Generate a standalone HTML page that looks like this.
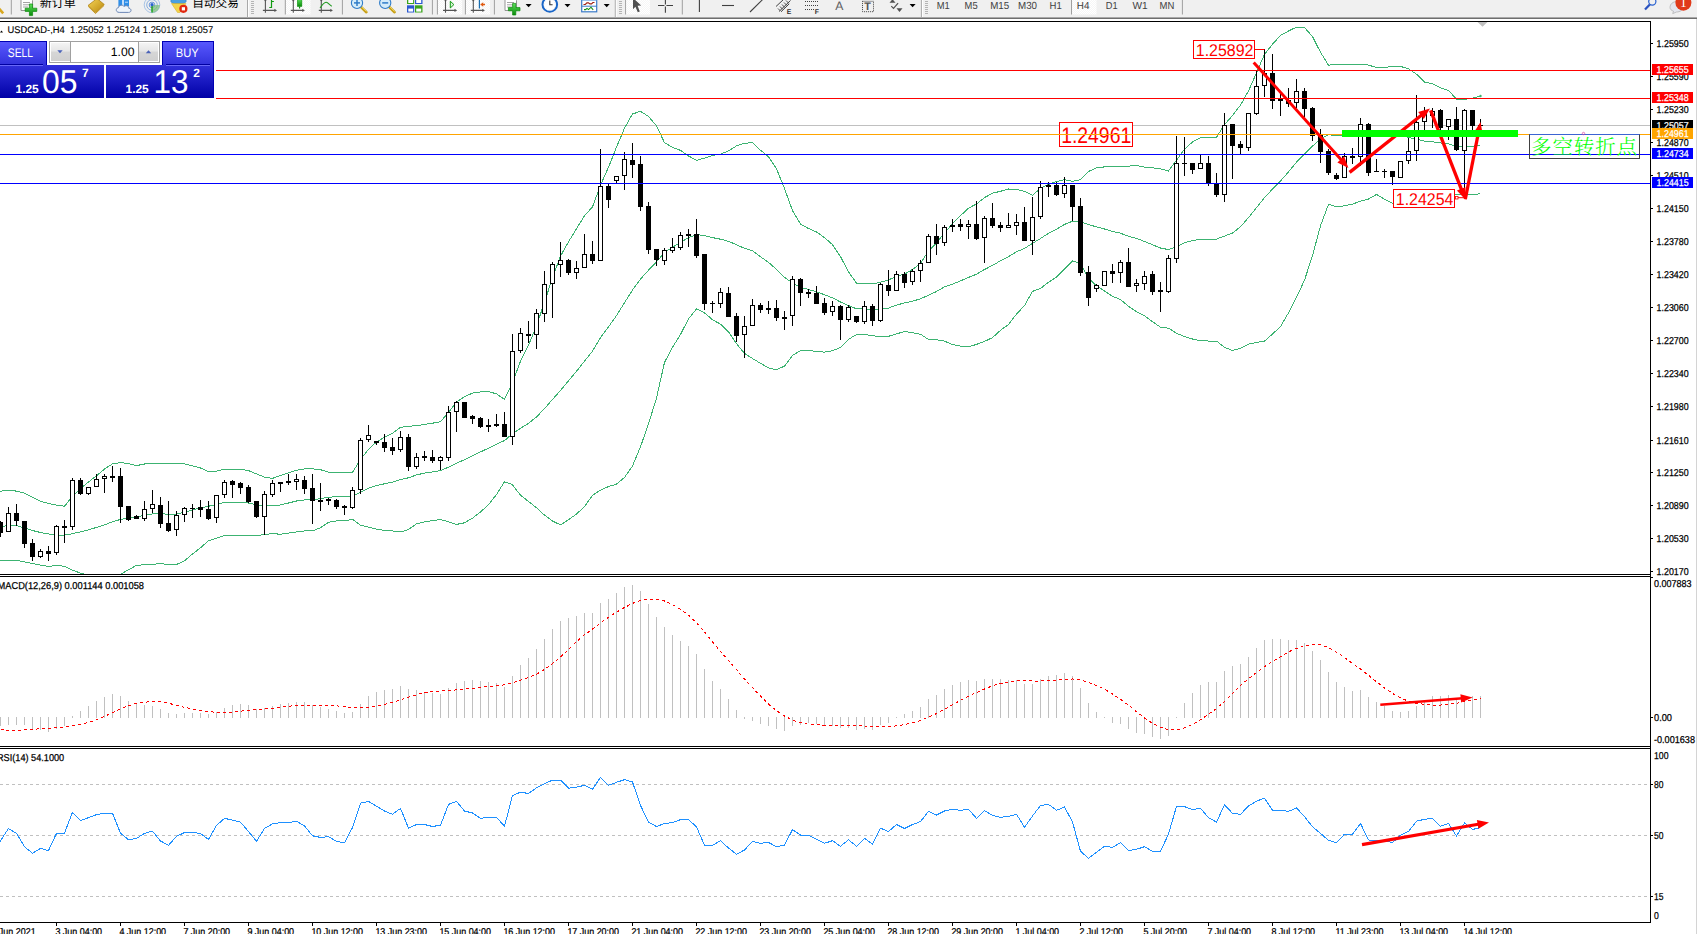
<!DOCTYPE html>
<html lang="zh"><head><meta charset="utf-8"><title>USDCAD-,H4</title>
<style>html,body{margin:0;padding:0;background:#fff;overflow:hidden}body{width:1697px;height:934px;position:relative;font-family:"Liberation Sans","Noto Sans CJK SC",sans-serif}text{text-rendering:geometricPrecision}</style>
</head><body>
<svg width="1697" height="934" viewBox="0 0 1697 934" style="position:absolute;left:0;top:0;display:block"><rect x="0" y="0" width="1697" height="934" fill="#fff"/>
<rect x="0" y="0" width="1697" height="17" fill="#f0f0f0"/>
<rect x="0" y="17" width="1697" height="1" fill="#a8a8a8"/>
<rect x="0" y="18" width="1697" height="1" fill="#6e6e6e"/>
<rect x="1696" y="19" width="1" height="915" fill="#d4d4d4"/>
<defs><clipPath id="cm"><rect x="0" y="22" width="1650" height="552"/></clipPath><clipPath id="c2"><rect x="0" y="577" width="1650" height="169"/></clipPath><clipPath id="c3"><rect x="0" y="749" width="1650" height="173"/></clipPath><linearGradient id="gb" x1="0" y1="0" x2="0" y2="1"><stop offset="0" stop-color="#5a5aff"/><stop offset="0.42" stop-color="#3232dc"/><stop offset="1" stop-color="#0000a6"/></linearGradient><linearGradient id="gs" x1="0" y1="0" x2="0" y2="1"><stop offset="0" stop-color="#f4f4f4"/><stop offset="0.45" stop-color="#e6e6e6"/><stop offset="0.5" stop-color="#d6d6d6"/><stop offset="1" stop-color="#d0d0d0"/></linearGradient></defs>
<g clip-path="url(#cm)">
<rect x="0" y="125" width="1650" height="1" fill="#c0c0c0" shape-rendering="crispEdges"/>
<polyline points="0.0,491.2 0.5,491.2 8.5,490.3 16.5,491.1 24.5,493.2 32.5,497.4 40.5,501.4 48.5,503.4 56.5,505.1 64.5,506.3 72.5,496.2 80.5,488.5 88.5,482.0 96.5,475.7 104.5,469.1 112.5,463.8 120.5,462.6 128.5,463.6 136.5,465.6 144.5,464.0 152.5,463.5 160.5,463.6 168.5,463.9 176.5,463.7 184.5,463.8 192.5,465.9 200.5,468.0 208.5,471.7 216.5,471.1 224.5,469.2 232.5,469.9 240.5,469.2 248.5,470.6 256.5,473.9 264.5,477.1 272.5,478.4 280.5,475.5 288.5,472.9 296.5,470.2 304.5,469.0 312.5,468.8 320.5,469.7 328.5,472.1 336.5,472.7 344.5,472.7 352.5,472.3 360.5,459.5 368.5,449.2 376.5,442.0 384.5,437.3 392.5,433.4 400.5,427.3 408.5,426.2 416.5,425.8 424.5,424.3 432.5,423.2 440.5,421.7 448.5,412.4 456.5,402.1 464.5,396.7 472.5,393.1 480.5,391.9 488.5,391.7 496.5,393.8 504.5,399.4 512.5,382.6 520.5,361.3 528.5,345.2 536.5,325.9 544.5,302.2 552.5,277.7 560.5,256.1 568.5,241.8 576.5,228.7 584.5,215.7 592.5,206.9 600.5,185.1 608.5,167.3 616.5,147.2 624.5,128.1 632.5,114.0 640.5,111.3 648.5,116.5 656.5,125.8 664.5,142.7 672.5,147.3 680.5,150.4 688.5,156.0 696.5,160.3 704.5,158.2 712.5,155.4 720.5,154.1 728.5,150.9 736.5,145.9 744.5,143.3 752.5,142.7 760.5,150.2 768.5,156.7 776.5,168.9 784.5,188.5 792.5,210.7 800.5,224.0 808.5,228.5 816.5,232.0 824.5,237.6 832.5,244.7 840.5,256.6 848.5,271.8 856.5,283.2 864.5,283.4 872.5,283.9 880.5,282.2 888.5,280.0 896.5,276.2 904.5,274.2 912.5,269.5 920.5,263.5 928.5,250.8 936.5,243.1 944.5,232.8 952.5,223.8 960.5,215.7 968.5,208.1 976.5,204.0 984.5,197.6 992.5,193.2 1000.5,191.3 1008.5,189.0 1016.5,189.5 1024.5,191.4 1032.5,195.2 1040.5,188.4 1048.5,184.4 1056.5,181.5 1064.5,179.6 1072.5,181.3 1080.5,179.7 1088.5,171.5 1096.5,167.8 1104.5,166.9 1112.5,166.4 1120.5,166.8 1128.5,166.2 1136.5,165.4 1144.5,167.2 1152.5,167.8 1160.5,168.8 1168.5,171.0 1176.5,160.2 1184.5,149.1 1192.5,142.0 1200.5,137.7 1208.5,137.2 1216.5,137.2 1224.5,124.7 1232.5,115.5 1240.5,105.1 1248.5,90.9 1256.5,72.9 1264.5,54.3 1272.5,44.2 1280.5,35.4 1288.5,31.0 1296.5,27.1 1304.5,27.5 1312.5,36.6 1320.5,52.3 1328.5,65.2 1336.5,64.4 1344.5,64.5 1352.5,64.9 1360.5,64.1 1368.5,65.1 1376.5,67.5 1384.5,67.5 1392.5,66.5 1400.5,66.4 1408.5,68.8 1416.5,74.2 1424.5,82.0 1432.5,83.8 1440.5,87.8 1448.5,90.5 1456.5,99.1 1464.5,99.4 1472.5,98.2 1480.5,96.0" fill="none" stroke="#3cb371" stroke-width="1" shape-rendering="crispEdges"/>
<polyline points="0.0,526.6 0.5,526.6 8.5,525.6 16.5,525.6 24.5,527.9 32.5,530.5 40.5,532.5 48.5,534.0 56.5,535.0 64.5,535.0 72.5,533.7 80.5,531.8 88.5,529.8 96.5,527.4 104.5,524.8 112.5,521.8 120.5,519.4 128.5,518.1 136.5,517.2 144.5,515.2 152.5,513.9 160.5,513.5 168.5,514.4 176.5,514.1 184.5,512.3 192.5,509.9 200.5,507.9 208.5,506.2 216.5,504.6 224.5,502.4 232.5,502.6 240.5,502.3 248.5,503.0 256.5,504.9 264.5,505.8 272.5,506.0 280.5,504.9 288.5,503.0 296.5,501.0 304.5,500.0 312.5,499.8 320.5,498.7 328.5,497.2 336.5,496.8 344.5,496.8 352.5,495.8 360.5,492.4 368.5,488.2 376.5,485.5 384.5,483.8 392.5,482.1 400.5,479.6 408.5,477.8 416.5,474.9 424.5,473.1 432.5,471.9 440.5,470.6 448.5,467.1 456.5,463.3 464.5,459.7 472.5,455.6 480.5,451.9 488.5,448.2 496.5,444.1 504.5,440.6 512.5,433.7 520.5,428.3 528.5,423.3 536.5,416.9 544.5,408.7 552.5,399.4 560.5,390.5 568.5,380.8 576.5,371.3 584.5,361.1 592.5,351.1 600.5,337.6 608.5,326.9 616.5,315.6 624.5,302.7 632.5,290.0 640.5,279.0 648.5,270.2 656.5,261.9 664.5,252.5 672.5,247.3 680.5,242.4 688.5,237.5 696.5,234.6 704.5,235.6 712.5,237.6 720.5,239.2 728.5,241.3 736.5,244.8 744.5,248.4 752.5,250.6 760.5,256.8 768.5,262.3 776.5,269.4 784.5,277.3 792.5,283.0 800.5,287.3 808.5,289.5 816.5,291.7 824.5,294.8 832.5,297.8 840.5,302.0 848.5,305.6 856.5,308.8 864.5,309.0 872.5,309.8 880.5,309.4 888.5,308.1 896.5,305.1 904.5,302.9 912.5,301.2 920.5,298.8 928.5,295.2 936.5,291.5 944.5,286.9 952.5,284.2 960.5,280.9 968.5,277.4 976.5,274.2 984.5,269.5 992.5,265.4 1000.5,260.8 1008.5,256.7 1016.5,251.8 1024.5,248.5 1032.5,243.3 1040.5,238.5 1048.5,233.3 1056.5,229.3 1064.5,224.4 1072.5,221.2 1080.5,221.6 1088.5,224.7 1096.5,226.8 1104.5,229.0 1112.5,231.4 1120.5,233.2 1128.5,236.3 1136.5,238.5 1144.5,241.4 1152.5,244.8 1160.5,248.0 1168.5,249.6 1176.5,246.7 1184.5,242.8 1192.5,240.5 1200.5,239.3 1208.5,239.1 1216.5,239.1 1224.5,236.1 1232.5,233.0 1240.5,226.8 1248.5,217.6 1256.5,207.6 1264.5,197.7 1272.5,189.1 1280.5,181.0 1288.5,171.9 1296.5,162.2 1304.5,153.9 1312.5,146.1 1320.5,139.0 1328.5,134.8 1336.5,135.5 1344.5,135.2 1352.5,134.6 1360.5,132.6 1368.5,132.0 1376.5,130.9 1384.5,133.3 1392.5,134.9 1400.5,135.5 1408.5,137.4 1416.5,139.2 1424.5,141.1 1432.5,141.7 1440.5,143.0 1448.5,143.8 1456.5,146.7 1464.5,146.8 1472.5,146.3 1480.5,144.9" fill="none" stroke="#3cb371" stroke-width="1" shape-rendering="crispEdges"/>
<polyline points="0.0,560.2 0.5,560.2 8.5,560.2 16.5,560.2 24.5,561.9 32.5,563.6 40.5,565.1 48.5,566.4 56.5,565.6 64.5,566.2 72.5,570.2 80.5,573.1 88.5,575.5 96.5,576.0 104.5,576.0 112.5,576.0 120.5,574.4 128.5,569.7 136.5,565.4 144.5,564.7 152.5,564.4 160.5,563.4 168.5,564.8 176.5,564.5 184.5,560.9 192.5,554.0 200.5,547.8 208.5,540.7 216.5,538.1 224.5,535.5 232.5,535.2 240.5,535.3 248.5,535.4 256.5,535.9 264.5,534.4 272.5,533.7 280.5,534.2 288.5,533.1 296.5,531.9 304.5,531.0 312.5,530.8 320.5,527.8 328.5,522.3 336.5,520.9 344.5,520.8 352.5,519.3 360.5,525.2 368.5,527.2 376.5,529.1 384.5,530.4 392.5,530.9 400.5,532.0 408.5,529.5 416.5,523.9 424.5,521.8 432.5,520.7 440.5,519.5 448.5,521.8 456.5,524.4 464.5,522.8 472.5,518.2 480.5,511.9 488.5,504.7 496.5,494.5 504.5,481.8 512.5,484.7 520.5,495.3 528.5,501.4 536.5,507.8 544.5,515.1 552.5,521.0 560.5,524.9 568.5,519.8 576.5,514.0 584.5,506.6 592.5,495.3 600.5,490.1 608.5,486.6 616.5,484.1 624.5,477.4 632.5,466.0 640.5,446.8 648.5,423.9 656.5,398.0 664.5,362.4 672.5,347.4 680.5,334.4 688.5,318.9 696.5,308.9 704.5,312.9 712.5,319.7 720.5,324.2 728.5,331.8 736.5,343.6 744.5,353.4 752.5,358.5 760.5,363.3 768.5,367.9 776.5,369.8 784.5,366.1 792.5,355.4 800.5,350.7 808.5,350.5 816.5,351.4 824.5,352.1 832.5,350.8 840.5,347.4 848.5,339.3 856.5,334.5 864.5,334.5 872.5,335.7 880.5,336.6 888.5,336.3 896.5,333.9 904.5,331.5 912.5,332.8 920.5,334.2 928.5,339.5 936.5,339.8 944.5,341.1 952.5,344.6 960.5,346.1 968.5,346.8 976.5,344.4 984.5,341.4 992.5,337.6 1000.5,330.3 1008.5,324.5 1016.5,314.1 1024.5,305.6 1032.5,291.4 1040.5,288.5 1048.5,282.2 1056.5,277.1 1064.5,269.2 1072.5,261.0 1080.5,263.6 1088.5,278.0 1096.5,285.8 1104.5,291.0 1112.5,296.4 1120.5,299.5 1128.5,306.4 1136.5,311.6 1144.5,315.7 1152.5,321.7 1160.5,327.2 1168.5,328.2 1176.5,333.2 1184.5,336.6 1192.5,339.0 1200.5,340.8 1208.5,341.0 1216.5,341.0 1224.5,347.4 1232.5,350.5 1240.5,348.4 1248.5,344.2 1256.5,342.4 1264.5,341.1 1272.5,334.0 1280.5,326.6 1288.5,312.8 1296.5,297.4 1304.5,280.2 1312.5,255.5 1320.5,225.8 1328.5,204.4 1336.5,206.7 1344.5,205.8 1352.5,204.2 1360.5,201.1 1368.5,199.0 1376.5,194.4 1384.5,199.2 1392.5,203.2 1400.5,204.6 1408.5,206.1 1416.5,204.2 1424.5,200.2 1432.5,199.5 1440.5,198.2 1448.5,197.1 1456.5,194.4 1464.5,194.2 1472.5,194.4 1480.5,193.8" fill="none" stroke="#3cb371" stroke-width="1" shape-rendering="crispEdges"/>
<circle cx="1480.5" cy="96.0" r="1.2" fill="#3cb371"/>
<rect x="0" y="521" width="1" height="16" fill="#000" shape-rendering="crispEdges"/>
<rect x="-2" y="522" width="5" height="11" fill="#000" shape-rendering="crispEdges"/>
<rect x="8" y="507" width="1" height="25" fill="#000" shape-rendering="crispEdges"/>
<rect x="6.5" y="513.5" width="4" height="18" fill="#fff" stroke="#000" stroke-width="1" shape-rendering="crispEdges"/>
<rect x="16" y="504" width="1" height="22" fill="#000" shape-rendering="crispEdges"/>
<rect x="14" y="513" width="5" height="8" fill="#000" shape-rendering="crispEdges"/>
<rect x="24" y="521" width="1" height="27" fill="#000" shape-rendering="crispEdges"/>
<rect x="22" y="521" width="5" height="23" fill="#000" shape-rendering="crispEdges"/>
<rect x="32" y="539" width="1" height="22" fill="#000" shape-rendering="crispEdges"/>
<rect x="30" y="543" width="5" height="14" fill="#000" shape-rendering="crispEdges"/>
<rect x="40" y="549" width="1" height="9" fill="#000" shape-rendering="crispEdges"/>
<rect x="38.5" y="551.5" width="4" height="5" fill="#fff" stroke="#000" stroke-width="1" shape-rendering="crispEdges"/>
<rect x="48" y="546" width="1" height="15" fill="#000" shape-rendering="crispEdges"/>
<rect x="46" y="551" width="5" height="3" fill="#000" shape-rendering="crispEdges"/>
<rect x="56" y="525" width="1" height="30" fill="#000" shape-rendering="crispEdges"/>
<rect x="54.5" y="526.5" width="4" height="26" fill="#fff" stroke="#000" stroke-width="1" shape-rendering="crispEdges"/>
<rect x="64" y="520" width="1" height="23" fill="#000" shape-rendering="crispEdges"/>
<rect x="62" y="526" width="5" height="2" fill="#000" shape-rendering="crispEdges"/>
<rect x="72" y="478" width="1" height="52" fill="#000" shape-rendering="crispEdges"/>
<rect x="70.5" y="480.5" width="4" height="46" fill="#fff" stroke="#000" stroke-width="1" shape-rendering="crispEdges"/>
<rect x="80" y="478" width="1" height="17" fill="#000" shape-rendering="crispEdges"/>
<rect x="78" y="480" width="5" height="14" fill="#000" shape-rendering="crispEdges"/>
<rect x="88" y="487" width="1" height="8" fill="#000" shape-rendering="crispEdges"/>
<rect x="86.5" y="487.5" width="4" height="6" fill="#fff" stroke="#000" stroke-width="1" shape-rendering="crispEdges"/>
<rect x="96" y="474" width="1" height="13" fill="#000" shape-rendering="crispEdges"/>
<rect x="94.5" y="479.5" width="4" height="7" fill="#fff" stroke="#000" stroke-width="1" shape-rendering="crispEdges"/>
<rect x="104" y="474" width="1" height="19" fill="#000" shape-rendering="crispEdges"/>
<rect x="102.5" y="476.5" width="4" height="2" fill="#fff" stroke="#000" stroke-width="1" shape-rendering="crispEdges"/>
<rect x="112" y="466" width="1" height="16" fill="#000" shape-rendering="crispEdges"/>
<rect x="110" y="476" width="5" height="2" fill="#000" shape-rendering="crispEdges"/>
<rect x="120" y="468" width="1" height="55" fill="#000" shape-rendering="crispEdges"/>
<rect x="118" y="476" width="5" height="31" fill="#000" shape-rendering="crispEdges"/>
<rect x="128" y="506" width="1" height="15" fill="#000" shape-rendering="crispEdges"/>
<rect x="126" y="506" width="5" height="14" fill="#000" shape-rendering="crispEdges"/>
<rect x="136" y="515" width="1" height="4" fill="#000" shape-rendering="crispEdges"/>
<rect x="134" y="516" width="5" height="3" fill="#000" shape-rendering="crispEdges"/>
<rect x="144" y="501" width="1" height="20" fill="#000" shape-rendering="crispEdges"/>
<rect x="142.5" y="509.5" width="4" height="9" fill="#fff" stroke="#000" stroke-width="1" shape-rendering="crispEdges"/>
<rect x="152" y="490" width="1" height="23" fill="#000" shape-rendering="crispEdges"/>
<rect x="150.5" y="504.5" width="4" height="4" fill="#fff" stroke="#000" stroke-width="1" shape-rendering="crispEdges"/>
<rect x="160" y="497" width="1" height="31" fill="#000" shape-rendering="crispEdges"/>
<rect x="158" y="505" width="5" height="19" fill="#000" shape-rendering="crispEdges"/>
<rect x="168" y="501" width="1" height="31" fill="#000" shape-rendering="crispEdges"/>
<rect x="166" y="523" width="5" height="8" fill="#000" shape-rendering="crispEdges"/>
<rect x="176" y="511" width="1" height="25" fill="#000" shape-rendering="crispEdges"/>
<rect x="174.5" y="515.5" width="4" height="14" fill="#fff" stroke="#000" stroke-width="1" shape-rendering="crispEdges"/>
<rect x="184" y="507" width="1" height="15" fill="#000" shape-rendering="crispEdges"/>
<rect x="182.5" y="508.5" width="4" height="6" fill="#fff" stroke="#000" stroke-width="1" shape-rendering="crispEdges"/>
<rect x="192" y="504" width="1" height="14" fill="#000" shape-rendering="crispEdges"/>
<rect x="190" y="508" width="5" height="1" fill="#000" shape-rendering="crispEdges"/>
<rect x="200" y="500" width="1" height="17" fill="#000" shape-rendering="crispEdges"/>
<rect x="198" y="507" width="5" height="3" fill="#000" shape-rendering="crispEdges"/>
<rect x="208" y="501" width="1" height="19" fill="#000" shape-rendering="crispEdges"/>
<rect x="206" y="509" width="5" height="10" fill="#000" shape-rendering="crispEdges"/>
<rect x="216" y="495" width="1" height="28" fill="#000" shape-rendering="crispEdges"/>
<rect x="214.5" y="495.5" width="4" height="22" fill="#fff" stroke="#000" stroke-width="1" shape-rendering="crispEdges"/>
<rect x="224" y="480" width="1" height="18" fill="#000" shape-rendering="crispEdges"/>
<rect x="222.5" y="482.5" width="4" height="12" fill="#fff" stroke="#000" stroke-width="1" shape-rendering="crispEdges"/>
<rect x="232" y="480" width="1" height="18" fill="#000" shape-rendering="crispEdges"/>
<rect x="230" y="481" width="5" height="4" fill="#000" shape-rendering="crispEdges"/>
<rect x="240" y="482" width="1" height="12" fill="#000" shape-rendering="crispEdges"/>
<rect x="238" y="483" width="5" height="5" fill="#000" shape-rendering="crispEdges"/>
<rect x="248" y="485" width="1" height="18" fill="#000" shape-rendering="crispEdges"/>
<rect x="246" y="487" width="5" height="15" fill="#000" shape-rendering="crispEdges"/>
<rect x="256" y="501" width="1" height="17" fill="#000" shape-rendering="crispEdges"/>
<rect x="254" y="501" width="5" height="16" fill="#000" shape-rendering="crispEdges"/>
<rect x="264" y="491" width="1" height="44" fill="#000" shape-rendering="crispEdges"/>
<rect x="262.5" y="494.5" width="4" height="22" fill="#fff" stroke="#000" stroke-width="1" shape-rendering="crispEdges"/>
<rect x="272" y="480" width="1" height="17" fill="#000" shape-rendering="crispEdges"/>
<rect x="270.5" y="483.5" width="4" height="11" fill="#fff" stroke="#000" stroke-width="1" shape-rendering="crispEdges"/>
<rect x="280" y="482" width="1" height="10" fill="#000" shape-rendering="crispEdges"/>
<rect x="278" y="482" width="5" height="2" fill="#000" shape-rendering="crispEdges"/>
<rect x="288" y="474" width="1" height="11" fill="#000" shape-rendering="crispEdges"/>
<rect x="286" y="481" width="5" height="2" fill="#000" shape-rendering="crispEdges"/>
<rect x="296" y="474" width="1" height="16" fill="#000" shape-rendering="crispEdges"/>
<rect x="294.5" y="479.5" width="4" height="2" fill="#fff" stroke="#000" stroke-width="1" shape-rendering="crispEdges"/>
<rect x="304" y="476" width="1" height="18" fill="#000" shape-rendering="crispEdges"/>
<rect x="302" y="480" width="5" height="9" fill="#000" shape-rendering="crispEdges"/>
<rect x="312" y="474" width="1" height="50" fill="#000" shape-rendering="crispEdges"/>
<rect x="310" y="488" width="5" height="13" fill="#000" shape-rendering="crispEdges"/>
<rect x="320" y="483" width="1" height="28" fill="#000" shape-rendering="crispEdges"/>
<rect x="318" y="500" width="5" height="2" fill="#000" shape-rendering="crispEdges"/>
<rect x="328" y="498" width="1" height="7" fill="#000" shape-rendering="crispEdges"/>
<rect x="326" y="499" width="5" height="2" fill="#000" shape-rendering="crispEdges"/>
<rect x="336" y="499" width="1" height="10" fill="#000" shape-rendering="crispEdges"/>
<rect x="334" y="500" width="5" height="7" fill="#000" shape-rendering="crispEdges"/>
<rect x="344" y="505" width="1" height="10" fill="#000" shape-rendering="crispEdges"/>
<rect x="342" y="506" width="5" height="2" fill="#000" shape-rendering="crispEdges"/>
<rect x="352" y="487" width="1" height="22" fill="#000" shape-rendering="crispEdges"/>
<rect x="350.5" y="490.5" width="4" height="17" fill="#fff" stroke="#000" stroke-width="1" shape-rendering="crispEdges"/>
<rect x="360" y="438" width="1" height="56" fill="#000" shape-rendering="crispEdges"/>
<rect x="358.5" y="440.5" width="4" height="49" fill="#fff" stroke="#000" stroke-width="1" shape-rendering="crispEdges"/>
<rect x="368" y="425" width="1" height="17" fill="#000" shape-rendering="crispEdges"/>
<rect x="366.5" y="435.5" width="4" height="4" fill="#fff" stroke="#000" stroke-width="1" shape-rendering="crispEdges"/>
<rect x="376" y="441" width="1" height="4" fill="#000" shape-rendering="crispEdges"/>
<rect x="374" y="441" width="5" height="2" fill="#000" shape-rendering="crispEdges"/>
<rect x="384" y="434" width="1" height="18" fill="#000" shape-rendering="crispEdges"/>
<rect x="382" y="442" width="5" height="6" fill="#000" shape-rendering="crispEdges"/>
<rect x="392" y="438" width="1" height="17" fill="#000" shape-rendering="crispEdges"/>
<rect x="390" y="447" width="5" height="4" fill="#000" shape-rendering="crispEdges"/>
<rect x="400" y="431" width="1" height="21" fill="#000" shape-rendering="crispEdges"/>
<rect x="398.5" y="437.5" width="4" height="12" fill="#fff" stroke="#000" stroke-width="1" shape-rendering="crispEdges"/>
<rect x="408" y="434" width="1" height="37" fill="#000" shape-rendering="crispEdges"/>
<rect x="406" y="437" width="5" height="30" fill="#000" shape-rendering="crispEdges"/>
<rect x="416" y="453" width="1" height="16" fill="#000" shape-rendering="crispEdges"/>
<rect x="414.5" y="457.5" width="4" height="9" fill="#fff" stroke="#000" stroke-width="1" shape-rendering="crispEdges"/>
<rect x="424" y="451" width="1" height="10" fill="#000" shape-rendering="crispEdges"/>
<rect x="422" y="456" width="5" height="2" fill="#000" shape-rendering="crispEdges"/>
<rect x="432" y="450" width="1" height="13" fill="#000" shape-rendering="crispEdges"/>
<rect x="430" y="457" width="5" height="4" fill="#000" shape-rendering="crispEdges"/>
<rect x="440" y="456" width="1" height="14" fill="#000" shape-rendering="crispEdges"/>
<rect x="438.5" y="457.5" width="4" height="3" fill="#fff" stroke="#000" stroke-width="1" shape-rendering="crispEdges"/>
<rect x="448" y="406" width="1" height="55" fill="#000" shape-rendering="crispEdges"/>
<rect x="446.5" y="412.5" width="4" height="45" fill="#fff" stroke="#000" stroke-width="1" shape-rendering="crispEdges"/>
<rect x="456" y="401" width="1" height="31" fill="#000" shape-rendering="crispEdges"/>
<rect x="454.5" y="402.5" width="4" height="9" fill="#fff" stroke="#000" stroke-width="1" shape-rendering="crispEdges"/>
<rect x="464" y="402" width="1" height="16" fill="#000" shape-rendering="crispEdges"/>
<rect x="462" y="402" width="5" height="16" fill="#000" shape-rendering="crispEdges"/>
<rect x="472" y="415" width="1" height="9" fill="#000" shape-rendering="crispEdges"/>
<rect x="470" y="416" width="5" height="3" fill="#000" shape-rendering="crispEdges"/>
<rect x="480" y="417" width="1" height="11" fill="#000" shape-rendering="crispEdges"/>
<rect x="478" y="418" width="5" height="9" fill="#000" shape-rendering="crispEdges"/>
<rect x="488" y="419" width="1" height="13" fill="#000" shape-rendering="crispEdges"/>
<rect x="486" y="425" width="5" height="2" fill="#000" shape-rendering="crispEdges"/>
<rect x="496" y="414" width="1" height="13" fill="#000" shape-rendering="crispEdges"/>
<rect x="494" y="424" width="5" height="2" fill="#000" shape-rendering="crispEdges"/>
<rect x="504" y="412" width="1" height="25" fill="#000" shape-rendering="crispEdges"/>
<rect x="502" y="424" width="5" height="13" fill="#000" shape-rendering="crispEdges"/>
<rect x="512" y="334" width="1" height="111" fill="#000" shape-rendering="crispEdges"/>
<rect x="510.5" y="351.5" width="4" height="85" fill="#fff" stroke="#000" stroke-width="1" shape-rendering="crispEdges"/>
<rect x="520" y="328" width="1" height="25" fill="#000" shape-rendering="crispEdges"/>
<rect x="518.5" y="333.5" width="4" height="17" fill="#fff" stroke="#000" stroke-width="1" shape-rendering="crispEdges"/>
<rect x="528" y="321" width="1" height="22" fill="#000" shape-rendering="crispEdges"/>
<rect x="526" y="334" width="5" height="2" fill="#000" shape-rendering="crispEdges"/>
<rect x="536" y="309" width="1" height="40" fill="#000" shape-rendering="crispEdges"/>
<rect x="534.5" y="313.5" width="4" height="21" fill="#fff" stroke="#000" stroke-width="1" shape-rendering="crispEdges"/>
<rect x="544" y="271" width="1" height="51" fill="#000" shape-rendering="crispEdges"/>
<rect x="542.5" y="284.5" width="4" height="29" fill="#fff" stroke="#000" stroke-width="1" shape-rendering="crispEdges"/>
<rect x="552" y="262" width="1" height="56" fill="#000" shape-rendering="crispEdges"/>
<rect x="550.5" y="264.5" width="4" height="19" fill="#fff" stroke="#000" stroke-width="1" shape-rendering="crispEdges"/>
<rect x="560" y="242" width="1" height="35" fill="#000" shape-rendering="crispEdges"/>
<rect x="558.5" y="260.5" width="4" height="4" fill="#fff" stroke="#000" stroke-width="1" shape-rendering="crispEdges"/>
<rect x="568" y="259" width="1" height="16" fill="#000" shape-rendering="crispEdges"/>
<rect x="566" y="260" width="5" height="13" fill="#000" shape-rendering="crispEdges"/>
<rect x="576" y="261" width="1" height="18" fill="#000" shape-rendering="crispEdges"/>
<rect x="574.5" y="268.5" width="4" height="4" fill="#fff" stroke="#000" stroke-width="1" shape-rendering="crispEdges"/>
<rect x="584" y="234" width="1" height="34" fill="#000" shape-rendering="crispEdges"/>
<rect x="582.5" y="254.5" width="4" height="13" fill="#fff" stroke="#000" stroke-width="1" shape-rendering="crispEdges"/>
<rect x="592" y="241" width="1" height="23" fill="#000" shape-rendering="crispEdges"/>
<rect x="590" y="254" width="5" height="7" fill="#000" shape-rendering="crispEdges"/>
<rect x="600" y="149" width="1" height="112" fill="#000" shape-rendering="crispEdges"/>
<rect x="598.5" y="186.5" width="4" height="74" fill="#fff" stroke="#000" stroke-width="1" shape-rendering="crispEdges"/>
<rect x="608" y="184" width="1" height="24" fill="#000" shape-rendering="crispEdges"/>
<rect x="606" y="186" width="5" height="14" fill="#000" shape-rendering="crispEdges"/>
<rect x="616" y="176" width="1" height="8" fill="#000" shape-rendering="crispEdges"/>
<rect x="614.5" y="176.5" width="4" height="4" fill="#fff" stroke="#000" stroke-width="1" shape-rendering="crispEdges"/>
<rect x="624" y="152" width="1" height="38" fill="#000" shape-rendering="crispEdges"/>
<rect x="622.5" y="159.5" width="4" height="16" fill="#fff" stroke="#000" stroke-width="1" shape-rendering="crispEdges"/>
<rect x="632" y="143" width="1" height="35" fill="#000" shape-rendering="crispEdges"/>
<rect x="630" y="160" width="5" height="5" fill="#000" shape-rendering="crispEdges"/>
<rect x="640" y="156" width="1" height="55" fill="#000" shape-rendering="crispEdges"/>
<rect x="638" y="164" width="5" height="43" fill="#000" shape-rendering="crispEdges"/>
<rect x="648" y="202" width="1" height="52" fill="#000" shape-rendering="crispEdges"/>
<rect x="646" y="206" width="5" height="44" fill="#000" shape-rendering="crispEdges"/>
<rect x="656" y="249" width="1" height="17" fill="#000" shape-rendering="crispEdges"/>
<rect x="654" y="249" width="5" height="11" fill="#000" shape-rendering="crispEdges"/>
<rect x="664" y="248" width="1" height="17" fill="#000" shape-rendering="crispEdges"/>
<rect x="662.5" y="250.5" width="4" height="10" fill="#fff" stroke="#000" stroke-width="1" shape-rendering="crispEdges"/>
<rect x="672" y="238" width="1" height="15" fill="#000" shape-rendering="crispEdges"/>
<rect x="670.5" y="247.5" width="4" height="3" fill="#fff" stroke="#000" stroke-width="1" shape-rendering="crispEdges"/>
<rect x="680" y="232" width="1" height="18" fill="#000" shape-rendering="crispEdges"/>
<rect x="678.5" y="235.5" width="4" height="12" fill="#fff" stroke="#000" stroke-width="1" shape-rendering="crispEdges"/>
<rect x="688" y="229" width="1" height="18" fill="#000" shape-rendering="crispEdges"/>
<rect x="686" y="234" width="5" height="2" fill="#000" shape-rendering="crispEdges"/>
<rect x="696" y="219" width="1" height="39" fill="#000" shape-rendering="crispEdges"/>
<rect x="694" y="234" width="5" height="22" fill="#000" shape-rendering="crispEdges"/>
<rect x="704" y="254" width="1" height="56" fill="#000" shape-rendering="crispEdges"/>
<rect x="702" y="254" width="5" height="50" fill="#000" shape-rendering="crispEdges"/>
<rect x="712" y="301" width="1" height="12" fill="#000" shape-rendering="crispEdges"/>
<rect x="710" y="303" width="5" height="1" fill="#000" shape-rendering="crispEdges"/>
<rect x="720" y="288" width="1" height="20" fill="#000" shape-rendering="crispEdges"/>
<rect x="718.5" y="292.5" width="4" height="11" fill="#fff" stroke="#000" stroke-width="1" shape-rendering="crispEdges"/>
<rect x="728" y="287" width="1" height="30" fill="#000" shape-rendering="crispEdges"/>
<rect x="726" y="293" width="5" height="24" fill="#000" shape-rendering="crispEdges"/>
<rect x="736" y="313" width="1" height="29" fill="#000" shape-rendering="crispEdges"/>
<rect x="734" y="316" width="5" height="20" fill="#000" shape-rendering="crispEdges"/>
<rect x="744" y="316" width="1" height="42" fill="#000" shape-rendering="crispEdges"/>
<rect x="742.5" y="326.5" width="4" height="8" fill="#fff" stroke="#000" stroke-width="1" shape-rendering="crispEdges"/>
<rect x="752" y="299" width="1" height="27" fill="#000" shape-rendering="crispEdges"/>
<rect x="750.5" y="305.5" width="4" height="20" fill="#fff" stroke="#000" stroke-width="1" shape-rendering="crispEdges"/>
<rect x="760" y="303" width="1" height="10" fill="#000" shape-rendering="crispEdges"/>
<rect x="758" y="305" width="5" height="5" fill="#000" shape-rendering="crispEdges"/>
<rect x="768" y="301" width="1" height="13" fill="#000" shape-rendering="crispEdges"/>
<rect x="766" y="308" width="5" height="2" fill="#000" shape-rendering="crispEdges"/>
<rect x="776" y="300" width="1" height="21" fill="#000" shape-rendering="crispEdges"/>
<rect x="774" y="308" width="5" height="10" fill="#000" shape-rendering="crispEdges"/>
<rect x="784" y="311" width="1" height="19" fill="#000" shape-rendering="crispEdges"/>
<rect x="782" y="317" width="5" height="2" fill="#000" shape-rendering="crispEdges"/>
<rect x="792" y="276" width="1" height="50" fill="#000" shape-rendering="crispEdges"/>
<rect x="790.5" y="279.5" width="4" height="36" fill="#fff" stroke="#000" stroke-width="1" shape-rendering="crispEdges"/>
<rect x="800" y="278" width="1" height="28" fill="#000" shape-rendering="crispEdges"/>
<rect x="798" y="279" width="5" height="14" fill="#000" shape-rendering="crispEdges"/>
<rect x="808" y="289" width="1" height="9" fill="#000" shape-rendering="crispEdges"/>
<rect x="806" y="292" width="5" height="2" fill="#000" shape-rendering="crispEdges"/>
<rect x="816" y="286" width="1" height="18" fill="#000" shape-rendering="crispEdges"/>
<rect x="814" y="293" width="5" height="11" fill="#000" shape-rendering="crispEdges"/>
<rect x="824" y="298" width="1" height="17" fill="#000" shape-rendering="crispEdges"/>
<rect x="822" y="303" width="5" height="10" fill="#000" shape-rendering="crispEdges"/>
<rect x="832" y="301" width="1" height="15" fill="#000" shape-rendering="crispEdges"/>
<rect x="830.5" y="306.5" width="4" height="5" fill="#fff" stroke="#000" stroke-width="1" shape-rendering="crispEdges"/>
<rect x="840" y="305" width="1" height="35" fill="#000" shape-rendering="crispEdges"/>
<rect x="838" y="306" width="5" height="14" fill="#000" shape-rendering="crispEdges"/>
<rect x="848" y="305" width="1" height="17" fill="#000" shape-rendering="crispEdges"/>
<rect x="846.5" y="307.5" width="4" height="12" fill="#fff" stroke="#000" stroke-width="1" shape-rendering="crispEdges"/>
<rect x="856" y="316" width="1" height="7" fill="#000" shape-rendering="crispEdges"/>
<rect x="854" y="316" width="5" height="6" fill="#000" shape-rendering="crispEdges"/>
<rect x="864" y="301" width="1" height="23" fill="#000" shape-rendering="crispEdges"/>
<rect x="862.5" y="306.5" width="4" height="15" fill="#fff" stroke="#000" stroke-width="1" shape-rendering="crispEdges"/>
<rect x="872" y="304" width="1" height="22" fill="#000" shape-rendering="crispEdges"/>
<rect x="870" y="306" width="5" height="15" fill="#000" shape-rendering="crispEdges"/>
<rect x="880" y="283" width="1" height="39" fill="#000" shape-rendering="crispEdges"/>
<rect x="878.5" y="284.5" width="4" height="36" fill="#fff" stroke="#000" stroke-width="1" shape-rendering="crispEdges"/>
<rect x="888" y="270" width="1" height="26" fill="#000" shape-rendering="crispEdges"/>
<rect x="886" y="285" width="5" height="6" fill="#000" shape-rendering="crispEdges"/>
<rect x="896" y="271" width="1" height="20" fill="#000" shape-rendering="crispEdges"/>
<rect x="894.5" y="274.5" width="4" height="16" fill="#fff" stroke="#000" stroke-width="1" shape-rendering="crispEdges"/>
<rect x="904" y="272" width="1" height="16" fill="#000" shape-rendering="crispEdges"/>
<rect x="902" y="274" width="5" height="9" fill="#000" shape-rendering="crispEdges"/>
<rect x="912" y="269" width="1" height="16" fill="#000" shape-rendering="crispEdges"/>
<rect x="910.5" y="271.5" width="4" height="10" fill="#fff" stroke="#000" stroke-width="1" shape-rendering="crispEdges"/>
<rect x="920" y="260" width="1" height="22" fill="#000" shape-rendering="crispEdges"/>
<rect x="918.5" y="263.5" width="4" height="7" fill="#fff" stroke="#000" stroke-width="1" shape-rendering="crispEdges"/>
<rect x="928" y="234" width="1" height="29" fill="#000" shape-rendering="crispEdges"/>
<rect x="926.5" y="236.5" width="4" height="26" fill="#fff" stroke="#000" stroke-width="1" shape-rendering="crispEdges"/>
<rect x="936" y="224" width="1" height="31" fill="#000" shape-rendering="crispEdges"/>
<rect x="934" y="236" width="5" height="8" fill="#000" shape-rendering="crispEdges"/>
<rect x="944" y="225" width="1" height="21" fill="#000" shape-rendering="crispEdges"/>
<rect x="942.5" y="227.5" width="4" height="15" fill="#fff" stroke="#000" stroke-width="1" shape-rendering="crispEdges"/>
<rect x="952" y="219" width="1" height="13" fill="#000" shape-rendering="crispEdges"/>
<rect x="950" y="225" width="5" height="2" fill="#000" shape-rendering="crispEdges"/>
<rect x="960" y="219" width="1" height="12" fill="#000" shape-rendering="crispEdges"/>
<rect x="958" y="224" width="5" height="3" fill="#000" shape-rendering="crispEdges"/>
<rect x="968" y="220" width="1" height="19" fill="#000" shape-rendering="crispEdges"/>
<rect x="966.5" y="224.5" width="4" height="2" fill="#fff" stroke="#000" stroke-width="1" shape-rendering="crispEdges"/>
<rect x="976" y="201" width="1" height="39" fill="#000" shape-rendering="crispEdges"/>
<rect x="974" y="224" width="5" height="15" fill="#000" shape-rendering="crispEdges"/>
<rect x="984" y="216" width="1" height="47" fill="#000" shape-rendering="crispEdges"/>
<rect x="982.5" y="218.5" width="4" height="19" fill="#fff" stroke="#000" stroke-width="1" shape-rendering="crispEdges"/>
<rect x="992" y="203" width="1" height="25" fill="#000" shape-rendering="crispEdges"/>
<rect x="990" y="218" width="5" height="8" fill="#000" shape-rendering="crispEdges"/>
<rect x="1000" y="222" width="1" height="10" fill="#000" shape-rendering="crispEdges"/>
<rect x="998" y="225" width="5" height="3" fill="#000" shape-rendering="crispEdges"/>
<rect x="1008" y="213" width="1" height="15" fill="#000" shape-rendering="crispEdges"/>
<rect x="1006.5" y="225.5" width="4" height="2" fill="#fff" stroke="#000" stroke-width="1" shape-rendering="crispEdges"/>
<rect x="1016" y="214" width="1" height="21" fill="#000" shape-rendering="crispEdges"/>
<rect x="1014.5" y="222.5" width="4" height="3" fill="#fff" stroke="#000" stroke-width="1" shape-rendering="crispEdges"/>
<rect x="1024" y="207" width="1" height="34" fill="#000" shape-rendering="crispEdges"/>
<rect x="1022" y="222" width="5" height="19" fill="#000" shape-rendering="crispEdges"/>
<rect x="1032" y="197" width="1" height="58" fill="#000" shape-rendering="crispEdges"/>
<rect x="1030.5" y="217.5" width="4" height="23" fill="#fff" stroke="#000" stroke-width="1" shape-rendering="crispEdges"/>
<rect x="1040" y="181" width="1" height="38" fill="#000" shape-rendering="crispEdges"/>
<rect x="1038.5" y="187.5" width="4" height="29" fill="#fff" stroke="#000" stroke-width="1" shape-rendering="crispEdges"/>
<rect x="1048" y="182" width="1" height="15" fill="#000" shape-rendering="crispEdges"/>
<rect x="1046" y="185" width="5" height="2" fill="#000" shape-rendering="crispEdges"/>
<rect x="1056" y="182" width="1" height="14" fill="#000" shape-rendering="crispEdges"/>
<rect x="1054" y="185" width="5" height="10" fill="#000" shape-rendering="crispEdges"/>
<rect x="1064" y="177" width="1" height="21" fill="#000" shape-rendering="crispEdges"/>
<rect x="1062.5" y="185.5" width="4" height="8" fill="#fff" stroke="#000" stroke-width="1" shape-rendering="crispEdges"/>
<rect x="1072" y="185" width="1" height="36" fill="#000" shape-rendering="crispEdges"/>
<rect x="1070" y="185" width="5" height="22" fill="#000" shape-rendering="crispEdges"/>
<rect x="1080" y="198" width="1" height="78" fill="#000" shape-rendering="crispEdges"/>
<rect x="1078" y="206" width="5" height="67" fill="#000" shape-rendering="crispEdges"/>
<rect x="1088" y="266" width="1" height="40" fill="#000" shape-rendering="crispEdges"/>
<rect x="1086" y="272" width="5" height="26" fill="#000" shape-rendering="crispEdges"/>
<rect x="1096" y="284" width="1" height="8" fill="#000" shape-rendering="crispEdges"/>
<rect x="1094.5" y="285.5" width="4" height="3" fill="#fff" stroke="#000" stroke-width="1" shape-rendering="crispEdges"/>
<rect x="1104" y="271" width="1" height="15" fill="#000" shape-rendering="crispEdges"/>
<rect x="1102.5" y="271.5" width="4" height="14" fill="#fff" stroke="#000" stroke-width="1" shape-rendering="crispEdges"/>
<rect x="1112" y="264" width="1" height="19" fill="#000" shape-rendering="crispEdges"/>
<rect x="1110" y="271" width="5" height="3" fill="#000" shape-rendering="crispEdges"/>
<rect x="1120" y="260" width="1" height="23" fill="#000" shape-rendering="crispEdges"/>
<rect x="1118.5" y="262.5" width="4" height="10" fill="#fff" stroke="#000" stroke-width="1" shape-rendering="crispEdges"/>
<rect x="1128" y="248" width="1" height="39" fill="#000" shape-rendering="crispEdges"/>
<rect x="1126" y="262" width="5" height="25" fill="#000" shape-rendering="crispEdges"/>
<rect x="1136" y="279" width="1" height="13" fill="#000" shape-rendering="crispEdges"/>
<rect x="1134.5" y="283.5" width="4" height="2" fill="#fff" stroke="#000" stroke-width="1" shape-rendering="crispEdges"/>
<rect x="1144" y="271" width="1" height="19" fill="#000" shape-rendering="crispEdges"/>
<rect x="1142.5" y="276.5" width="4" height="7" fill="#fff" stroke="#000" stroke-width="1" shape-rendering="crispEdges"/>
<rect x="1152" y="271" width="1" height="24" fill="#000" shape-rendering="crispEdges"/>
<rect x="1150" y="274" width="5" height="18" fill="#000" shape-rendering="crispEdges"/>
<rect x="1160" y="282" width="1" height="30" fill="#000" shape-rendering="crispEdges"/>
<rect x="1158" y="290" width="5" height="2" fill="#000" shape-rendering="crispEdges"/>
<rect x="1168" y="255" width="1" height="38" fill="#000" shape-rendering="crispEdges"/>
<rect x="1166.5" y="258.5" width="4" height="33" fill="#fff" stroke="#000" stroke-width="1" shape-rendering="crispEdges"/>
<rect x="1176" y="136" width="1" height="127" fill="#000" shape-rendering="crispEdges"/>
<rect x="1174.5" y="163.5" width="4" height="95" fill="#fff" stroke="#000" stroke-width="1" shape-rendering="crispEdges"/>
<rect x="1184" y="137" width="1" height="39" fill="#000" shape-rendering="crispEdges"/>
<rect x="1182" y="163" width="5" height="1" fill="#000" shape-rendering="crispEdges"/>
<rect x="1192" y="163" width="1" height="11" fill="#000" shape-rendering="crispEdges"/>
<rect x="1190" y="163" width="5" height="7" fill="#000" shape-rendering="crispEdges"/>
<rect x="1200" y="154" width="1" height="15" fill="#000" shape-rendering="crispEdges"/>
<rect x="1198.5" y="163.5" width="4" height="5" fill="#fff" stroke="#000" stroke-width="1" shape-rendering="crispEdges"/>
<rect x="1208" y="156" width="1" height="30" fill="#000" shape-rendering="crispEdges"/>
<rect x="1206" y="163" width="5" height="21" fill="#000" shape-rendering="crispEdges"/>
<rect x="1216" y="173" width="1" height="24" fill="#000" shape-rendering="crispEdges"/>
<rect x="1214" y="183" width="5" height="12" fill="#000" shape-rendering="crispEdges"/>
<rect x="1224" y="113" width="1" height="89" fill="#000" shape-rendering="crispEdges"/>
<rect x="1222.5" y="125.5" width="4" height="69" fill="#fff" stroke="#000" stroke-width="1" shape-rendering="crispEdges"/>
<rect x="1232" y="124" width="1" height="55" fill="#000" shape-rendering="crispEdges"/>
<rect x="1230" y="124" width="5" height="22" fill="#000" shape-rendering="crispEdges"/>
<rect x="1240" y="141" width="1" height="13" fill="#000" shape-rendering="crispEdges"/>
<rect x="1238" y="144" width="5" height="4" fill="#000" shape-rendering="crispEdges"/>
<rect x="1248" y="113" width="1" height="38" fill="#000" shape-rendering="crispEdges"/>
<rect x="1246.5" y="113.5" width="4" height="34" fill="#fff" stroke="#000" stroke-width="1" shape-rendering="crispEdges"/>
<rect x="1256" y="70" width="1" height="45" fill="#000" shape-rendering="crispEdges"/>
<rect x="1254.5" y="86.5" width="4" height="27" fill="#fff" stroke="#000" stroke-width="1" shape-rendering="crispEdges"/>
<rect x="1264" y="49" width="1" height="48" fill="#000" shape-rendering="crispEdges"/>
<rect x="1262.5" y="73.5" width="4" height="12" fill="#fff" stroke="#000" stroke-width="1" shape-rendering="crispEdges"/>
<rect x="1272" y="54" width="1" height="55" fill="#000" shape-rendering="crispEdges"/>
<rect x="1270" y="73" width="5" height="28" fill="#000" shape-rendering="crispEdges"/>
<rect x="1280" y="94" width="1" height="22" fill="#000" shape-rendering="crispEdges"/>
<rect x="1278" y="99" width="5" height="2" fill="#000" shape-rendering="crispEdges"/>
<rect x="1288" y="88" width="1" height="19" fill="#000" shape-rendering="crispEdges"/>
<rect x="1286" y="100" width="5" height="4" fill="#000" shape-rendering="crispEdges"/>
<rect x="1296" y="79" width="1" height="29" fill="#000" shape-rendering="crispEdges"/>
<rect x="1294.5" y="91.5" width="4" height="11" fill="#fff" stroke="#000" stroke-width="1" shape-rendering="crispEdges"/>
<rect x="1304" y="88" width="1" height="29" fill="#000" shape-rendering="crispEdges"/>
<rect x="1302" y="91" width="5" height="18" fill="#000" shape-rendering="crispEdges"/>
<rect x="1312" y="107" width="1" height="34" fill="#000" shape-rendering="crispEdges"/>
<rect x="1310" y="108" width="5" height="28" fill="#000" shape-rendering="crispEdges"/>
<rect x="1320" y="129" width="1" height="34" fill="#000" shape-rendering="crispEdges"/>
<rect x="1318" y="135" width="5" height="17" fill="#000" shape-rendering="crispEdges"/>
<rect x="1328" y="149" width="1" height="26" fill="#000" shape-rendering="crispEdges"/>
<rect x="1326" y="151" width="5" height="22" fill="#000" shape-rendering="crispEdges"/>
<rect x="1336" y="173" width="1" height="7" fill="#000" shape-rendering="crispEdges"/>
<rect x="1334" y="175" width="5" height="4" fill="#000" shape-rendering="crispEdges"/>
<rect x="1344" y="153" width="1" height="25" fill="#000" shape-rendering="crispEdges"/>
<rect x="1342.5" y="156.5" width="4" height="21" fill="#fff" stroke="#000" stroke-width="1" shape-rendering="crispEdges"/>
<rect x="1352" y="148" width="1" height="16" fill="#000" shape-rendering="crispEdges"/>
<rect x="1350" y="156" width="5" height="2" fill="#000" shape-rendering="crispEdges"/>
<rect x="1360" y="118" width="1" height="48" fill="#000" shape-rendering="crispEdges"/>
<rect x="1358.5" y="124.5" width="4" height="32" fill="#fff" stroke="#000" stroke-width="1" shape-rendering="crispEdges"/>
<rect x="1368" y="123" width="1" height="53" fill="#000" shape-rendering="crispEdges"/>
<rect x="1366" y="124" width="5" height="49" fill="#000" shape-rendering="crispEdges"/>
<rect x="1376" y="159" width="1" height="13" fill="#000" shape-rendering="crispEdges"/>
<rect x="1374" y="171" width="5" height="1" fill="#000" shape-rendering="crispEdges"/>
<rect x="1384" y="169" width="1" height="9" fill="#000" shape-rendering="crispEdges"/>
<rect x="1382" y="171" width="5" height="1" fill="#000" shape-rendering="crispEdges"/>
<rect x="1392" y="171" width="1" height="14" fill="#000" shape-rendering="crispEdges"/>
<rect x="1390" y="171" width="5" height="6" fill="#000" shape-rendering="crispEdges"/>
<rect x="1400" y="161" width="1" height="17" fill="#000" shape-rendering="crispEdges"/>
<rect x="1398.5" y="161.5" width="4" height="16" fill="#fff" stroke="#000" stroke-width="1" shape-rendering="crispEdges"/>
<rect x="1408" y="138" width="1" height="26" fill="#000" shape-rendering="crispEdges"/>
<rect x="1406.5" y="151.5" width="4" height="9" fill="#fff" stroke="#000" stroke-width="1" shape-rendering="crispEdges"/>
<rect x="1416" y="95" width="1" height="66" fill="#000" shape-rendering="crispEdges"/>
<rect x="1414.5" y="122.5" width="4" height="28" fill="#fff" stroke="#000" stroke-width="1" shape-rendering="crispEdges"/>
<rect x="1424" y="107" width="1" height="23" fill="#000" shape-rendering="crispEdges"/>
<rect x="1422.5" y="111.5" width="4" height="10" fill="#fff" stroke="#000" stroke-width="1" shape-rendering="crispEdges"/>
<rect x="1432" y="108" width="1" height="20" fill="#000" shape-rendering="crispEdges"/>
<rect x="1430.5" y="111.5" width="4" height="4" fill="#fff" stroke="#000" stroke-width="1" shape-rendering="crispEdges"/>
<rect x="1440" y="109" width="1" height="21" fill="#000" shape-rendering="crispEdges"/>
<rect x="1438" y="110" width="5" height="18" fill="#000" shape-rendering="crispEdges"/>
<rect x="1448" y="119" width="1" height="21" fill="#000" shape-rendering="crispEdges"/>
<rect x="1446.5" y="119.5" width="4" height="7" fill="#fff" stroke="#000" stroke-width="1" shape-rendering="crispEdges"/>
<rect x="1456" y="107" width="1" height="44" fill="#000" shape-rendering="crispEdges"/>
<rect x="1454" y="119" width="5" height="31" fill="#000" shape-rendering="crispEdges"/>
<rect x="1464" y="109" width="1" height="87" fill="#000" shape-rendering="crispEdges"/>
<rect x="1462.5" y="110.5" width="4" height="40" fill="#fff" stroke="#000" stroke-width="1" shape-rendering="crispEdges"/>
<rect x="1472" y="110" width="1" height="20" fill="#000" shape-rendering="crispEdges"/>
<rect x="1470" y="110" width="5" height="16" fill="#000" shape-rendering="crispEdges"/>
<rect x="1480" y="119" width="1" height="9" fill="#000" shape-rendering="crispEdges"/>
<rect x="1478" y="125" width="5" height="1" fill="#000" shape-rendering="crispEdges"/>
<rect x="1059.5" y="122.5" width="73" height="24" fill="#fff" stroke="#f00" stroke-width="1"/>
<text x="1061.2" y="143.2" font-family="Liberation Sans, sans-serif" font-size="22.5" fill="#f00" textLength="70" lengthAdjust="spacingAndGlyphs">1.24961</text>
<rect x="216" y="70" width="1434" height="1" fill="#ff0000" shape-rendering="crispEdges"/>
<rect x="216" y="98" width="1434" height="1" fill="#ff0000" shape-rendering="crispEdges"/>
<rect x="0" y="134" width="1650" height="1" fill="#ffa500" shape-rendering="crispEdges"/>
<rect x="0" y="154" width="1650" height="1" fill="#0000ff" shape-rendering="crispEdges"/>
<rect x="0" y="183" width="1650" height="1" fill="#0000ff" shape-rendering="crispEdges"/>
<rect x="1193.5" y="40.5" width="61" height="18" fill="#fff" stroke="#f00" stroke-width="1"/>
<text x="1195.8" y="56.2" font-family="Liberation Sans, sans-serif" font-size="17" fill="#f00" textLength="57.6" lengthAdjust="spacingAndGlyphs">1.25892</text>
<path d="M1254.5 49.5H1264.5" stroke="#f00" stroke-width="1" fill="none"/>
<rect x="1393.5" y="189.5" width="61" height="18" fill="#fff" stroke="#f00" stroke-width="1"/>
<text x="1395.8" y="205.2" font-family="Liberation Sans, sans-serif" font-size="17" fill="#f00" textLength="57.6" lengthAdjust="spacingAndGlyphs">1.24254</text>
<rect x="1455.5" y="196.5" width="2.5" height="2.5" fill="#fff" stroke="#f00" stroke-width="0.8"/><path d="M1458 197.7H1465" stroke="#f00" stroke-width="1"/>
<path d="M1253.7 62.5L1342.1 160.8" stroke="#f00" stroke-width="3.0" stroke-linecap="butt" fill="none"/>
<path d="M1348.4 167.9L1337.4 162.4L1344.1 156.3Z" fill="#f00"/>
<path d="M1349.6 172.4L1422.6 114.3" stroke="#f00" stroke-width="3.3" stroke-linecap="butt" fill="none"/>
<path d="M1430.0 108.4L1423.8 119.1L1418.2 112.0Z" fill="#f00"/>
<path d="M1430.6 110.3L1461.9 190.6" stroke="#f00" stroke-width="3.3" stroke-linecap="butt" fill="none"/>
<path d="M1465.3 199.5L1456.9 190.4L1465.3 187.2Z" fill="#f00"/>
<path d="M1465.3 199.2L1478.7 131.3" stroke="#f00" stroke-width="3.3" stroke-linecap="butt" fill="none"/>
<path d="M1480.5 122.0L1482.7 134.2L1473.9 132.4Z" fill="#f00"/>
<rect x="1342" y="130" width="176" height="7" fill="#00ff00" shape-rendering="crispEdges"/>
<rect x="1529.5" y="134.5" width="110" height="24" fill="#fff" stroke="#404040" stroke-width="1"/>
<path d="M1529.5 134.5H1639.5" stroke="#3c64d2" stroke-width="1"/>
<rect x="1530" y="154" width="109" height="1" fill="#0000ff" shape-rendering="crispEdges"/>
<text x="1531" y="154" font-family="Liberation Serif, Noto Serif CJK SC, serif" font-weight="300" font-size="20.5" fill="#00ff00" textLength="106" lengthAdjust="spacing">多空转折点</text>
<circle cx="1583.5" cy="133.5" r="1.2" fill="none" stroke="#e040a0" stroke-width="0.7"/>
<rect x="0" y="41" width="216" height="58" fill="#fff"/>
<rect x="0" y="41" width="47" height="57" fill="url(#gb)"/>
<rect x="0" y="65" width="104" height="33" fill="#fff"/>
<rect x="162" y="41" width="52" height="57" fill="url(#gb)"/>
<svg x="0" y="41" width="104" height="57" viewBox="0 0 104 57" overflow="hidden"><rect x="0" y="0" width="104" height="57" fill="url(#gb)"/></svg>
<rect x="47" y="41" width="57" height="24" fill="#fff"/>
<svg x="106" y="41" width="108" height="57" viewBox="0 0 108 57" overflow="hidden"><rect x="0" y="0" width="108" height="57" fill="url(#gb)"/></svg>
<rect x="106" y="41" width="56" height="24" fill="#fff"/>
<path d="M0 41.5H47M46.5 41V65M162.5 41V65M162 41.5H214M213.5 41V98" stroke="#0000b4" stroke-width="1" fill="none"/>
<path d="M0 64.5H43" stroke="#0000a0" stroke-width="1"/><path d="M0 65.5H43" stroke="#6868f8" stroke-width="1"/>
<path d="M166 64.5H210" stroke="#0000a0" stroke-width="1"/><path d="M166 65.5H210" stroke="#6868f8" stroke-width="1"/>
<rect x="49.5" y="41.5" width="110" height="21" fill="#fff" stroke="#a0a0a0" stroke-width="1"/>
<rect x="51" y="43" width="19" height="18" fill="url(#gs)"/><path d="M70.5 42V62" stroke="#a0a0a0"/>
<rect x="139" y="43" width="19" height="18" fill="url(#gs)"/><path d="M138.5 42V62" stroke="#a0a0a0"/>
<path d="M57.3 50.3h5.4l-2.7 2.9z" fill="#4a62b8"/><path d="M145.8 53.2h5.4l-2.7 -2.9z" fill="#4a62b8"/>
<text x="134.5" y="55.8" font-family="Liberation Sans, sans-serif" font-size="12.2" fill="#000" text-anchor="end">1.00</text>
<text x="7.8" y="57" font-family="Liberation Sans, sans-serif" font-size="12.5" fill="#fff" textLength="25.2" lengthAdjust="spacingAndGlyphs">SELL</text>
<text x="175.8" y="57" font-family="Liberation Sans, sans-serif" font-size="12.5" fill="#fff" textLength="23" lengthAdjust="spacingAndGlyphs">BUY</text>
<text x="15.5" y="92.9" font-family="Liberation Sans, sans-serif" font-size="12" font-weight="bold" fill="#fff" textLength="23.2" lengthAdjust="spacingAndGlyphs">1.25</text>
<text x="42" y="92.9" font-family="Liberation Sans, sans-serif" font-size="33" fill="#fff" textLength="35.5" lengthAdjust="spacingAndGlyphs">05</text>
<text x="82" y="77" font-family="Liberation Sans, sans-serif" font-size="12" font-weight="bold" fill="#fff">7</text>
<text x="125.5" y="92.9" font-family="Liberation Sans, sans-serif" font-size="12" font-weight="bold" fill="#fff" textLength="23.2" lengthAdjust="spacingAndGlyphs">1.25</text>
<text x="153.5" y="92.9" font-family="Liberation Sans, sans-serif" font-size="33" fill="#fff" textLength="35" lengthAdjust="spacingAndGlyphs">13</text>
<text x="193.3" y="77" font-family="Liberation Sans, sans-serif" font-size="12" font-weight="bold" fill="#fff">2</text>
<path d="M0 32.5L1.5 30.5L3 32.5Z" fill="#000"/>
<text x="7.6" y="32.8" font-family="Liberation Sans, sans-serif" font-size="9.8" fill="#000" stroke="#000" stroke-width="0.12" textLength="205.5" lengthAdjust="spacingAndGlyphs" xml:space="preserve">USDCAD-,H4  1.25052 1.25124 1.25018 1.25057</text>
<path d="M1477.5 22h10l-5 4.8z" fill="#c0c0c0"/>
</g>
<rect x="0" y="21" width="1651" height="1" fill="#000" shape-rendering="crispEdges"/>
<rect x="1650" y="21" width="1" height="902" fill="#000" shape-rendering="crispEdges"/>
<rect x="0" y="574" width="1651" height="1" fill="#000" shape-rendering="crispEdges"/>
<rect x="0" y="576" width="1651" height="1" fill="#000" shape-rendering="crispEdges"/>
<rect x="0" y="746" width="1651" height="1" fill="#000" shape-rendering="crispEdges"/>
<rect x="0" y="748" width="1651" height="1" fill="#000" shape-rendering="crispEdges"/>
<rect x="0" y="922" width="1651" height="1" fill="#000" shape-rendering="crispEdges"/>
<rect x="0" y="575" width="1650" height="1" fill="#fff" shape-rendering="crispEdges"/>
<rect x="0" y="747" width="1650" height="1" fill="#fff" shape-rendering="crispEdges"/>
<rect x="1651" y="43" width="2" height="1" fill="#000" shape-rendering="crispEdges"/>
<text x="1656.6" y="46.6" font-family="Liberation Sans, sans-serif" font-size="10" stroke-width="0.25" fill="#000" stroke="#000" textLength="32" lengthAdjust="spacingAndGlyphs">1.25950</text>
<rect x="1651" y="76" width="2" height="1" fill="#000" shape-rendering="crispEdges"/>
<text x="1656.6" y="79.6" font-family="Liberation Sans, sans-serif" font-size="10" stroke-width="0.25" fill="#000" stroke="#000" textLength="32" lengthAdjust="spacingAndGlyphs">1.25590</text>
<rect x="1651" y="109" width="2" height="1" fill="#000" shape-rendering="crispEdges"/>
<text x="1656.6" y="112.6" font-family="Liberation Sans, sans-serif" font-size="10" stroke-width="0.25" fill="#000" stroke="#000" textLength="32" lengthAdjust="spacingAndGlyphs">1.25230</text>
<rect x="1651" y="142" width="2" height="1" fill="#000" shape-rendering="crispEdges"/>
<text x="1656.6" y="145.6" font-family="Liberation Sans, sans-serif" font-size="10" stroke-width="0.25" fill="#000" stroke="#000" textLength="32" lengthAdjust="spacingAndGlyphs">1.24870</text>
<rect x="1651" y="175" width="2" height="1" fill="#000" shape-rendering="crispEdges"/>
<text x="1656.6" y="178.6" font-family="Liberation Sans, sans-serif" font-size="10" stroke-width="0.25" fill="#000" stroke="#000" textLength="32" lengthAdjust="spacingAndGlyphs">1.24510</text>
<rect x="1651" y="208" width="2" height="1" fill="#000" shape-rendering="crispEdges"/>
<text x="1656.6" y="211.6" font-family="Liberation Sans, sans-serif" font-size="10" stroke-width="0.25" fill="#000" stroke="#000" textLength="32" lengthAdjust="spacingAndGlyphs">1.24150</text>
<rect x="1651" y="241" width="2" height="1" fill="#000" shape-rendering="crispEdges"/>
<text x="1656.6" y="244.6" font-family="Liberation Sans, sans-serif" font-size="10" stroke-width="0.25" fill="#000" stroke="#000" textLength="32" lengthAdjust="spacingAndGlyphs">1.23780</text>
<rect x="1651" y="274" width="2" height="1" fill="#000" shape-rendering="crispEdges"/>
<text x="1656.6" y="277.6" font-family="Liberation Sans, sans-serif" font-size="10" stroke-width="0.25" fill="#000" stroke="#000" textLength="32" lengthAdjust="spacingAndGlyphs">1.23420</text>
<rect x="1651" y="307" width="2" height="1" fill="#000" shape-rendering="crispEdges"/>
<text x="1656.6" y="310.6" font-family="Liberation Sans, sans-serif" font-size="10" stroke-width="0.25" fill="#000" stroke="#000" textLength="32" lengthAdjust="spacingAndGlyphs">1.23060</text>
<rect x="1651" y="340" width="2" height="1" fill="#000" shape-rendering="crispEdges"/>
<text x="1656.6" y="343.6" font-family="Liberation Sans, sans-serif" font-size="10" stroke-width="0.25" fill="#000" stroke="#000" textLength="32" lengthAdjust="spacingAndGlyphs">1.22700</text>
<rect x="1651" y="373" width="2" height="1" fill="#000" shape-rendering="crispEdges"/>
<text x="1656.6" y="376.6" font-family="Liberation Sans, sans-serif" font-size="10" stroke-width="0.25" fill="#000" stroke="#000" textLength="32" lengthAdjust="spacingAndGlyphs">1.22340</text>
<rect x="1651" y="406" width="2" height="1" fill="#000" shape-rendering="crispEdges"/>
<text x="1656.6" y="409.6" font-family="Liberation Sans, sans-serif" font-size="10" stroke-width="0.25" fill="#000" stroke="#000" textLength="32" lengthAdjust="spacingAndGlyphs">1.21980</text>
<rect x="1651" y="440" width="2" height="1" fill="#000" shape-rendering="crispEdges"/>
<text x="1656.6" y="443.6" font-family="Liberation Sans, sans-serif" font-size="10" stroke-width="0.25" fill="#000" stroke="#000" textLength="32" lengthAdjust="spacingAndGlyphs">1.21610</text>
<rect x="1651" y="472" width="2" height="1" fill="#000" shape-rendering="crispEdges"/>
<text x="1656.6" y="475.6" font-family="Liberation Sans, sans-serif" font-size="10" stroke-width="0.25" fill="#000" stroke="#000" textLength="32" lengthAdjust="spacingAndGlyphs">1.21250</text>
<rect x="1651" y="505" width="2" height="1" fill="#000" shape-rendering="crispEdges"/>
<text x="1656.6" y="508.6" font-family="Liberation Sans, sans-serif" font-size="10" stroke-width="0.25" fill="#000" stroke="#000" textLength="32" lengthAdjust="spacingAndGlyphs">1.20890</text>
<rect x="1651" y="538" width="2" height="1" fill="#000" shape-rendering="crispEdges"/>
<text x="1656.6" y="541.6" font-family="Liberation Sans, sans-serif" font-size="10" stroke-width="0.25" fill="#000" stroke="#000" textLength="32" lengthAdjust="spacingAndGlyphs">1.20530</text>
<rect x="1651" y="571" width="2" height="1" fill="#000" shape-rendering="crispEdges"/>
<text x="1656.6" y="574.6" font-family="Liberation Sans, sans-serif" font-size="10" stroke-width="0.25" fill="#000" stroke="#000" textLength="32" lengthAdjust="spacingAndGlyphs">1.20170</text>
<rect x="1652" y="64" width="41" height="11" fill="#ff0000" shape-rendering="crispEdges"/>
<text x="1656.6" y="72.6" font-family="Liberation Sans, sans-serif" font-size="10" stroke-width="0.25" fill="#fff" stroke="#fff" textLength="32" lengthAdjust="spacingAndGlyphs">1.25655</text>
<rect x="1652" y="92" width="41" height="11" fill="#ff0000" shape-rendering="crispEdges"/>
<text x="1656.6" y="100.6" font-family="Liberation Sans, sans-serif" font-size="10" stroke-width="0.25" fill="#fff" stroke="#fff" textLength="32" lengthAdjust="spacingAndGlyphs">1.25348</text>
<rect x="1652" y="120" width="41" height="11" fill="#000000" shape-rendering="crispEdges"/>
<text x="1656.6" y="128.6" font-family="Liberation Sans, sans-serif" font-size="10" stroke-width="0.25" fill="#fff" stroke="#fff" textLength="32" lengthAdjust="spacingAndGlyphs">1.25057</text>
<rect x="1652" y="128" width="41" height="11" fill="#ffa500" shape-rendering="crispEdges"/>
<text x="1656.6" y="136.6" font-family="Liberation Sans, sans-serif" font-size="10" stroke-width="0.25" fill="#fff" stroke="#fff" textLength="32" lengthAdjust="spacingAndGlyphs">1.24961</text>
<rect x="1652" y="148" width="41" height="11" fill="#0000ff" shape-rendering="crispEdges"/>
<text x="1656.6" y="156.6" font-family="Liberation Sans, sans-serif" font-size="10" stroke-width="0.25" fill="#fff" stroke="#fff" textLength="32" lengthAdjust="spacingAndGlyphs">1.24734</text>
<rect x="1652" y="177" width="41" height="11" fill="#0000ff" shape-rendering="crispEdges"/>
<text x="1656.6" y="185.6" font-family="Liberation Sans, sans-serif" font-size="10" stroke-width="0.25" fill="#fff" stroke="#fff" textLength="32" lengthAdjust="spacingAndGlyphs">1.24415</text>
<g clip-path="url(#c2)">
<rect x="0" y="717" width="1" height="9" fill="#c0c0c0" shape-rendering="crispEdges"/>
<rect x="8" y="717" width="1" height="8" fill="#c0c0c0" shape-rendering="crispEdges"/>
<rect x="16" y="717" width="1" height="8" fill="#c0c0c0" shape-rendering="crispEdges"/>
<rect x="24" y="717" width="1" height="8" fill="#c0c0c0" shape-rendering="crispEdges"/>
<rect x="32" y="717" width="1" height="12" fill="#c0c0c0" shape-rendering="crispEdges"/>
<rect x="40" y="717" width="1" height="13" fill="#c0c0c0" shape-rendering="crispEdges"/>
<rect x="48" y="717" width="1" height="15" fill="#c0c0c0" shape-rendering="crispEdges"/>
<rect x="56" y="717" width="1" height="12" fill="#c0c0c0" shape-rendering="crispEdges"/>
<rect x="64" y="717" width="1" height="9" fill="#c0c0c0" shape-rendering="crispEdges"/>
<rect x="72" y="716" width="1" height="2" fill="#c0c0c0" shape-rendering="crispEdges"/>
<rect x="80" y="711" width="1" height="7" fill="#c0c0c0" shape-rendering="crispEdges"/>
<rect x="88" y="706" width="1" height="12" fill="#c0c0c0" shape-rendering="crispEdges"/>
<rect x="96" y="701" width="1" height="17" fill="#c0c0c0" shape-rendering="crispEdges"/>
<rect x="104" y="697" width="1" height="21" fill="#c0c0c0" shape-rendering="crispEdges"/>
<rect x="112" y="694" width="1" height="24" fill="#c0c0c0" shape-rendering="crispEdges"/>
<rect x="120" y="696" width="1" height="22" fill="#c0c0c0" shape-rendering="crispEdges"/>
<rect x="128" y="701" width="1" height="17" fill="#c0c0c0" shape-rendering="crispEdges"/>
<rect x="136" y="704" width="1" height="14" fill="#c0c0c0" shape-rendering="crispEdges"/>
<rect x="144" y="705" width="1" height="13" fill="#c0c0c0" shape-rendering="crispEdges"/>
<rect x="152" y="706" width="1" height="12" fill="#c0c0c0" shape-rendering="crispEdges"/>
<rect x="160" y="709" width="1" height="9" fill="#c0c0c0" shape-rendering="crispEdges"/>
<rect x="168" y="713" width="1" height="5" fill="#c0c0c0" shape-rendering="crispEdges"/>
<rect x="176" y="714" width="1" height="4" fill="#c0c0c0" shape-rendering="crispEdges"/>
<rect x="184" y="713" width="1" height="5" fill="#c0c0c0" shape-rendering="crispEdges"/>
<rect x="192" y="713" width="1" height="5" fill="#c0c0c0" shape-rendering="crispEdges"/>
<rect x="200" y="713" width="1" height="5" fill="#c0c0c0" shape-rendering="crispEdges"/>
<rect x="208" y="714" width="1" height="4" fill="#c0c0c0" shape-rendering="crispEdges"/>
<rect x="216" y="712" width="1" height="6" fill="#c0c0c0" shape-rendering="crispEdges"/>
<rect x="224" y="708" width="1" height="10" fill="#c0c0c0" shape-rendering="crispEdges"/>
<rect x="232" y="705" width="1" height="13" fill="#c0c0c0" shape-rendering="crispEdges"/>
<rect x="240" y="704" width="1" height="14" fill="#c0c0c0" shape-rendering="crispEdges"/>
<rect x="248" y="705" width="1" height="13" fill="#c0c0c0" shape-rendering="crispEdges"/>
<rect x="256" y="709" width="1" height="9" fill="#c0c0c0" shape-rendering="crispEdges"/>
<rect x="264" y="708" width="1" height="10" fill="#c0c0c0" shape-rendering="crispEdges"/>
<rect x="272" y="706" width="1" height="12" fill="#c0c0c0" shape-rendering="crispEdges"/>
<rect x="280" y="704" width="1" height="14" fill="#c0c0c0" shape-rendering="crispEdges"/>
<rect x="288" y="703" width="1" height="15" fill="#c0c0c0" shape-rendering="crispEdges"/>
<rect x="296" y="702" width="1" height="16" fill="#c0c0c0" shape-rendering="crispEdges"/>
<rect x="304" y="702" width="1" height="16" fill="#c0c0c0" shape-rendering="crispEdges"/>
<rect x="312" y="705" width="1" height="13" fill="#c0c0c0" shape-rendering="crispEdges"/>
<rect x="320" y="707" width="1" height="11" fill="#c0c0c0" shape-rendering="crispEdges"/>
<rect x="328" y="709" width="1" height="9" fill="#c0c0c0" shape-rendering="crispEdges"/>
<rect x="336" y="711" width="1" height="7" fill="#c0c0c0" shape-rendering="crispEdges"/>
<rect x="344" y="713" width="1" height="5" fill="#c0c0c0" shape-rendering="crispEdges"/>
<rect x="352" y="712" width="1" height="6" fill="#c0c0c0" shape-rendering="crispEdges"/>
<rect x="360" y="704" width="1" height="14" fill="#c0c0c0" shape-rendering="crispEdges"/>
<rect x="368" y="696" width="1" height="22" fill="#c0c0c0" shape-rendering="crispEdges"/>
<rect x="376" y="692" width="1" height="26" fill="#c0c0c0" shape-rendering="crispEdges"/>
<rect x="384" y="690" width="1" height="28" fill="#c0c0c0" shape-rendering="crispEdges"/>
<rect x="392" y="689" width="1" height="29" fill="#c0c0c0" shape-rendering="crispEdges"/>
<rect x="400" y="686" width="1" height="32" fill="#c0c0c0" shape-rendering="crispEdges"/>
<rect x="408" y="689" width="1" height="29" fill="#c0c0c0" shape-rendering="crispEdges"/>
<rect x="416" y="690" width="1" height="28" fill="#c0c0c0" shape-rendering="crispEdges"/>
<rect x="424" y="692" width="1" height="26" fill="#c0c0c0" shape-rendering="crispEdges"/>
<rect x="432" y="693" width="1" height="25" fill="#c0c0c0" shape-rendering="crispEdges"/>
<rect x="440" y="694" width="1" height="24" fill="#c0c0c0" shape-rendering="crispEdges"/>
<rect x="448" y="688" width="1" height="30" fill="#c0c0c0" shape-rendering="crispEdges"/>
<rect x="456" y="683" width="1" height="35" fill="#c0c0c0" shape-rendering="crispEdges"/>
<rect x="464" y="681" width="1" height="37" fill="#c0c0c0" shape-rendering="crispEdges"/>
<rect x="472" y="680" width="1" height="38" fill="#c0c0c0" shape-rendering="crispEdges"/>
<rect x="480" y="681" width="1" height="37" fill="#c0c0c0" shape-rendering="crispEdges"/>
<rect x="488" y="682" width="1" height="36" fill="#c0c0c0" shape-rendering="crispEdges"/>
<rect x="496" y="683" width="1" height="35" fill="#c0c0c0" shape-rendering="crispEdges"/>
<rect x="504" y="687" width="1" height="31" fill="#c0c0c0" shape-rendering="crispEdges"/>
<rect x="512" y="676" width="1" height="42" fill="#c0c0c0" shape-rendering="crispEdges"/>
<rect x="520" y="665" width="1" height="53" fill="#c0c0c0" shape-rendering="crispEdges"/>
<rect x="528" y="658" width="1" height="60" fill="#c0c0c0" shape-rendering="crispEdges"/>
<rect x="536" y="649" width="1" height="69" fill="#c0c0c0" shape-rendering="crispEdges"/>
<rect x="544" y="639" width="1" height="79" fill="#c0c0c0" shape-rendering="crispEdges"/>
<rect x="552" y="629" width="1" height="89" fill="#c0c0c0" shape-rendering="crispEdges"/>
<rect x="560" y="621" width="1" height="97" fill="#c0c0c0" shape-rendering="crispEdges"/>
<rect x="568" y="618" width="1" height="100" fill="#c0c0c0" shape-rendering="crispEdges"/>
<rect x="576" y="616" width="1" height="102" fill="#c0c0c0" shape-rendering="crispEdges"/>
<rect x="584" y="613" width="1" height="105" fill="#c0c0c0" shape-rendering="crispEdges"/>
<rect x="592" y="613" width="1" height="105" fill="#c0c0c0" shape-rendering="crispEdges"/>
<rect x="600" y="603" width="1" height="115" fill="#c0c0c0" shape-rendering="crispEdges"/>
<rect x="608" y="599" width="1" height="119" fill="#c0c0c0" shape-rendering="crispEdges"/>
<rect x="616" y="593" width="1" height="125" fill="#c0c0c0" shape-rendering="crispEdges"/>
<rect x="624" y="587" width="1" height="131" fill="#c0c0c0" shape-rendering="crispEdges"/>
<rect x="632" y="585" width="1" height="133" fill="#c0c0c0" shape-rendering="crispEdges"/>
<rect x="640" y="591" width="1" height="127" fill="#c0c0c0" shape-rendering="crispEdges"/>
<rect x="648" y="604" width="1" height="114" fill="#c0c0c0" shape-rendering="crispEdges"/>
<rect x="656" y="617" width="1" height="101" fill="#c0c0c0" shape-rendering="crispEdges"/>
<rect x="664" y="627" width="1" height="91" fill="#c0c0c0" shape-rendering="crispEdges"/>
<rect x="672" y="635" width="1" height="83" fill="#c0c0c0" shape-rendering="crispEdges"/>
<rect x="680" y="641" width="1" height="77" fill="#c0c0c0" shape-rendering="crispEdges"/>
<rect x="688" y="646" width="1" height="72" fill="#c0c0c0" shape-rendering="crispEdges"/>
<rect x="696" y="654" width="1" height="64" fill="#c0c0c0" shape-rendering="crispEdges"/>
<rect x="704" y="669" width="1" height="49" fill="#c0c0c0" shape-rendering="crispEdges"/>
<rect x="712" y="681" width="1" height="37" fill="#c0c0c0" shape-rendering="crispEdges"/>
<rect x="720" y="689" width="1" height="29" fill="#c0c0c0" shape-rendering="crispEdges"/>
<rect x="728" y="699" width="1" height="19" fill="#c0c0c0" shape-rendering="crispEdges"/>
<rect x="736" y="710" width="1" height="8" fill="#c0c0c0" shape-rendering="crispEdges"/>
<rect x="744" y="717" width="1" height="2" fill="#c0c0c0" shape-rendering="crispEdges"/>
<rect x="752" y="717" width="1" height="4" fill="#c0c0c0" shape-rendering="crispEdges"/>
<rect x="760" y="717" width="1" height="7" fill="#c0c0c0" shape-rendering="crispEdges"/>
<rect x="768" y="717" width="1" height="9" fill="#c0c0c0" shape-rendering="crispEdges"/>
<rect x="776" y="717" width="1" height="12" fill="#c0c0c0" shape-rendering="crispEdges"/>
<rect x="784" y="717" width="1" height="14" fill="#c0c0c0" shape-rendering="crispEdges"/>
<rect x="792" y="717" width="1" height="9" fill="#c0c0c0" shape-rendering="crispEdges"/>
<rect x="800" y="717" width="1" height="8" fill="#c0c0c0" shape-rendering="crispEdges"/>
<rect x="808" y="717" width="1" height="6" fill="#c0c0c0" shape-rendering="crispEdges"/>
<rect x="816" y="717" width="1" height="7" fill="#c0c0c0" shape-rendering="crispEdges"/>
<rect x="824" y="717" width="1" height="9" fill="#c0c0c0" shape-rendering="crispEdges"/>
<rect x="832" y="717" width="1" height="9" fill="#c0c0c0" shape-rendering="crispEdges"/>
<rect x="840" y="717" width="1" height="11" fill="#c0c0c0" shape-rendering="crispEdges"/>
<rect x="848" y="717" width="1" height="11" fill="#c0c0c0" shape-rendering="crispEdges"/>
<rect x="856" y="717" width="1" height="13" fill="#c0c0c0" shape-rendering="crispEdges"/>
<rect x="864" y="717" width="1" height="12" fill="#c0c0c0" shape-rendering="crispEdges"/>
<rect x="872" y="717" width="1" height="13" fill="#c0c0c0" shape-rendering="crispEdges"/>
<rect x="880" y="717" width="1" height="8" fill="#c0c0c0" shape-rendering="crispEdges"/>
<rect x="888" y="717" width="1" height="6" fill="#c0c0c0" shape-rendering="crispEdges"/>
<rect x="896" y="717" width="1" height="1" fill="#c0c0c0" shape-rendering="crispEdges"/>
<rect x="904" y="714" width="1" height="4" fill="#c0c0c0" shape-rendering="crispEdges"/>
<rect x="912" y="711" width="1" height="7" fill="#c0c0c0" shape-rendering="crispEdges"/>
<rect x="920" y="707" width="1" height="11" fill="#c0c0c0" shape-rendering="crispEdges"/>
<rect x="928" y="699" width="1" height="19" fill="#c0c0c0" shape-rendering="crispEdges"/>
<rect x="936" y="695" width="1" height="23" fill="#c0c0c0" shape-rendering="crispEdges"/>
<rect x="944" y="689" width="1" height="29" fill="#c0c0c0" shape-rendering="crispEdges"/>
<rect x="952" y="685" width="1" height="33" fill="#c0c0c0" shape-rendering="crispEdges"/>
<rect x="960" y="682" width="1" height="36" fill="#c0c0c0" shape-rendering="crispEdges"/>
<rect x="968" y="680" width="1" height="38" fill="#c0c0c0" shape-rendering="crispEdges"/>
<rect x="976" y="681" width="1" height="37" fill="#c0c0c0" shape-rendering="crispEdges"/>
<rect x="984" y="679" width="1" height="39" fill="#c0c0c0" shape-rendering="crispEdges"/>
<rect x="992" y="679" width="1" height="39" fill="#c0c0c0" shape-rendering="crispEdges"/>
<rect x="1000" y="679" width="1" height="39" fill="#c0c0c0" shape-rendering="crispEdges"/>
<rect x="1008" y="680" width="1" height="38" fill="#c0c0c0" shape-rendering="crispEdges"/>
<rect x="1016" y="680" width="1" height="38" fill="#c0c0c0" shape-rendering="crispEdges"/>
<rect x="1024" y="684" width="1" height="34" fill="#c0c0c0" shape-rendering="crispEdges"/>
<rect x="1032" y="684" width="1" height="34" fill="#c0c0c0" shape-rendering="crispEdges"/>
<rect x="1040" y="679" width="1" height="39" fill="#c0c0c0" shape-rendering="crispEdges"/>
<rect x="1048" y="676" width="1" height="42" fill="#c0c0c0" shape-rendering="crispEdges"/>
<rect x="1056" y="675" width="1" height="43" fill="#c0c0c0" shape-rendering="crispEdges"/>
<rect x="1064" y="673" width="1" height="45" fill="#c0c0c0" shape-rendering="crispEdges"/>
<rect x="1072" y="676" width="1" height="42" fill="#c0c0c0" shape-rendering="crispEdges"/>
<rect x="1080" y="688" width="1" height="30" fill="#c0c0c0" shape-rendering="crispEdges"/>
<rect x="1088" y="703" width="1" height="15" fill="#c0c0c0" shape-rendering="crispEdges"/>
<rect x="1096" y="712" width="1" height="6" fill="#c0c0c0" shape-rendering="crispEdges"/>
<rect x="1104" y="717" width="1" height="1" fill="#c0c0c0" shape-rendering="crispEdges"/>
<rect x="1112" y="717" width="1" height="6" fill="#c0c0c0" shape-rendering="crispEdges"/>
<rect x="1120" y="717" width="1" height="7" fill="#c0c0c0" shape-rendering="crispEdges"/>
<rect x="1128" y="717" width="1" height="12" fill="#c0c0c0" shape-rendering="crispEdges"/>
<rect x="1136" y="717" width="1" height="16" fill="#c0c0c0" shape-rendering="crispEdges"/>
<rect x="1144" y="717" width="1" height="17" fill="#c0c0c0" shape-rendering="crispEdges"/>
<rect x="1152" y="717" width="1" height="20" fill="#c0c0c0" shape-rendering="crispEdges"/>
<rect x="1160" y="717" width="1" height="22" fill="#c0c0c0" shape-rendering="crispEdges"/>
<rect x="1168" y="717" width="1" height="19" fill="#c0c0c0" shape-rendering="crispEdges"/>
<rect x="1176" y="717" width="1" height="1" fill="#c0c0c0" shape-rendering="crispEdges"/>
<rect x="1184" y="703" width="1" height="15" fill="#c0c0c0" shape-rendering="crispEdges"/>
<rect x="1192" y="693" width="1" height="25" fill="#c0c0c0" shape-rendering="crispEdges"/>
<rect x="1200" y="685" width="1" height="33" fill="#c0c0c0" shape-rendering="crispEdges"/>
<rect x="1208" y="682" width="1" height="36" fill="#c0c0c0" shape-rendering="crispEdges"/>
<rect x="1216" y="682" width="1" height="36" fill="#c0c0c0" shape-rendering="crispEdges"/>
<rect x="1224" y="671" width="1" height="47" fill="#c0c0c0" shape-rendering="crispEdges"/>
<rect x="1232" y="666" width="1" height="52" fill="#c0c0c0" shape-rendering="crispEdges"/>
<rect x="1240" y="664" width="1" height="54" fill="#c0c0c0" shape-rendering="crispEdges"/>
<rect x="1248" y="657" width="1" height="61" fill="#c0c0c0" shape-rendering="crispEdges"/>
<rect x="1256" y="648" width="1" height="70" fill="#c0c0c0" shape-rendering="crispEdges"/>
<rect x="1264" y="640" width="1" height="78" fill="#c0c0c0" shape-rendering="crispEdges"/>
<rect x="1272" y="639" width="1" height="79" fill="#c0c0c0" shape-rendering="crispEdges"/>
<rect x="1280" y="639" width="1" height="79" fill="#c0c0c0" shape-rendering="crispEdges"/>
<rect x="1288" y="640" width="1" height="78" fill="#c0c0c0" shape-rendering="crispEdges"/>
<rect x="1296" y="640" width="1" height="78" fill="#c0c0c0" shape-rendering="crispEdges"/>
<rect x="1304" y="643" width="1" height="75" fill="#c0c0c0" shape-rendering="crispEdges"/>
<rect x="1312" y="651" width="1" height="67" fill="#c0c0c0" shape-rendering="crispEdges"/>
<rect x="1320" y="660" width="1" height="58" fill="#c0c0c0" shape-rendering="crispEdges"/>
<rect x="1328" y="672" width="1" height="46" fill="#c0c0c0" shape-rendering="crispEdges"/>
<rect x="1336" y="682" width="1" height="36" fill="#c0c0c0" shape-rendering="crispEdges"/>
<rect x="1344" y="687" width="1" height="31" fill="#c0c0c0" shape-rendering="crispEdges"/>
<rect x="1352" y="691" width="1" height="27" fill="#c0c0c0" shape-rendering="crispEdges"/>
<rect x="1360" y="690" width="1" height="28" fill="#c0c0c0" shape-rendering="crispEdges"/>
<rect x="1368" y="697" width="1" height="21" fill="#c0c0c0" shape-rendering="crispEdges"/>
<rect x="1376" y="702" width="1" height="16" fill="#c0c0c0" shape-rendering="crispEdges"/>
<rect x="1384" y="706" width="1" height="12" fill="#c0c0c0" shape-rendering="crispEdges"/>
<rect x="1392" y="711" width="1" height="7" fill="#c0c0c0" shape-rendering="crispEdges"/>
<rect x="1400" y="712" width="1" height="6" fill="#c0c0c0" shape-rendering="crispEdges"/>
<rect x="1408" y="711" width="1" height="7" fill="#c0c0c0" shape-rendering="crispEdges"/>
<rect x="1416" y="706" width="1" height="12" fill="#c0c0c0" shape-rendering="crispEdges"/>
<rect x="1424" y="701" width="1" height="17" fill="#c0c0c0" shape-rendering="crispEdges"/>
<rect x="1432" y="696" width="1" height="22" fill="#c0c0c0" shape-rendering="crispEdges"/>
<rect x="1440" y="696" width="1" height="22" fill="#c0c0c0" shape-rendering="crispEdges"/>
<rect x="1448" y="695" width="1" height="23" fill="#c0c0c0" shape-rendering="crispEdges"/>
<rect x="1456" y="699" width="1" height="19" fill="#c0c0c0" shape-rendering="crispEdges"/>
<rect x="1464" y="696" width="1" height="22" fill="#c0c0c0" shape-rendering="crispEdges"/>
<rect x="1472" y="696" width="1" height="22" fill="#c0c0c0" shape-rendering="crispEdges"/>
<rect x="1480" y="696" width="1" height="22" fill="#c0c0c0" shape-rendering="crispEdges"/>
<polyline points="0.5,729.7 8.5,730.3 16.5,730.5 24.5,730.0 32.5,729.4 40.5,728.7 48.5,728.3 56.5,727.6 64.5,726.9 72.5,725.9 80.5,724.4 88.5,722.5 96.5,719.9 104.5,716.5 112.5,712.6 120.5,708.8 128.5,705.7 136.5,703.4 144.5,702.2 152.5,701.6 160.5,701.9 168.5,703.3 176.5,705.2 184.5,707.3 192.5,709.1 200.5,710.5 208.5,711.6 216.5,712.4 224.5,712.6 232.5,712.2 240.5,711.2 248.5,710.2 256.5,709.7 264.5,709.1 272.5,708.3 280.5,707.2 288.5,706.2 296.5,705.5 304.5,705.1 312.5,705.2 320.5,705.5 328.5,705.5 336.5,705.8 344.5,706.7 352.5,707.6 360.5,707.7 368.5,707.1 376.5,706.0 384.5,704.3 392.5,702.3 400.5,699.8 408.5,697.3 416.5,694.8 424.5,692.5 432.5,691.3 440.5,691.1 448.5,690.7 456.5,689.9 464.5,689.0 472.5,688.3 480.5,687.4 488.5,686.5 496.5,685.6 504.5,684.9 512.5,682.8 520.5,680.3 528.5,677.6 536.5,674.1 544.5,669.5 552.5,663.7 560.5,656.9 568.5,649.6 576.5,641.7 584.5,634.8 592.5,629.0 600.5,622.9 608.5,617.2 616.5,612.1 624.5,607.5 632.5,603.4 640.5,600.5 648.5,599.1 656.5,599.6 664.5,601.0 672.5,604.6 680.5,609.3 688.5,615.2 696.5,622.7 704.5,632.0 712.5,642.0 720.5,651.4 728.5,660.5 736.5,669.7 744.5,678.9 752.5,687.7 760.5,696.2 768.5,704.1 776.5,710.6 784.5,716.0 792.5,720.1 800.5,722.8 808.5,724.2 816.5,724.8 824.5,725.3 832.5,725.6 840.5,725.9 848.5,725.8 856.5,725.7 864.5,726.0 872.5,726.7 880.5,726.9 888.5,726.7 896.5,725.8 904.5,724.6 912.5,722.8 920.5,720.5 928.5,717.2 936.5,713.6 944.5,709.2 952.5,704.8 960.5,700.4 968.5,696.3 976.5,692.5 984.5,689.0 992.5,685.8 1000.5,683.6 1008.5,681.9 1016.5,681.0 1024.5,680.9 1032.5,681.0 1040.5,681.0 1048.5,680.4 1056.5,680.0 1064.5,679.4 1072.5,679.0 1080.5,680.0 1088.5,682.4 1096.5,685.5 1104.5,689.3 1112.5,694.0 1120.5,699.3 1128.5,705.2 1136.5,711.7 1144.5,718.0 1152.5,723.3 1160.5,727.3 1168.5,729.8 1176.5,729.8 1184.5,727.8 1192.5,724.5 1200.5,719.7 1208.5,714.2 1216.5,708.5 1224.5,701.3 1232.5,693.3 1240.5,685.4 1248.5,678.7 1256.5,672.6 1264.5,666.6 1272.5,661.4 1280.5,656.6 1288.5,651.9 1296.5,648.5 1304.5,645.9 1312.5,644.5 1320.5,644.9 1328.5,647.5 1336.5,652.2 1344.5,657.5 1352.5,663.4 1360.5,669.0 1368.5,675.3 1376.5,681.8 1384.5,687.9 1392.5,693.5 1400.5,698.0 1408.5,701.2 1416.5,703.3 1424.5,704.4 1432.5,705.1 1440.5,705.1 1448.5,704.2 1456.5,703.4 1464.5,701.7 1472.5,700.0 1480.5,698.3" fill="none" stroke="#ff0000" stroke-width="1" stroke-dasharray="3 3" shape-rendering="crispEdges"/>
</g>
<g>
<path d="M1380.3 704.7L1462.7 698.3" stroke="#f00" stroke-width="2.5" stroke-linecap="butt" fill="none"/>
<path d="M1472.7 697.5L1461.1 702.6L1460.4 694.2Z" fill="#f00"/>
</g>
<text x="-2.5" y="588.8" font-family="Liberation Sans, sans-serif" font-size="10" fill="#000" stroke="#000" stroke-width="0.25" textLength="146.5" lengthAdjust="spacingAndGlyphs">MACD(12,26,9) 0.001144 0.001058</text>
<text x="1654" y="586.6" font-family="Liberation Sans, sans-serif" font-size="10" stroke-width="0.25" fill="#000" stroke="#000" textLength="37.5" lengthAdjust="spacingAndGlyphs">0.007883</text>
<text x="1654" y="720.6" font-family="Liberation Sans, sans-serif" font-size="10" stroke-width="0.25" fill="#000" stroke="#000" textLength="18" lengthAdjust="spacingAndGlyphs">0.00</text>
<rect x="1651" y="717" width="2" height="1" fill="#000" shape-rendering="crispEdges"/>
<text x="1654" y="743.1" font-family="Liberation Sans, sans-serif" font-size="10" stroke-width="0.25" fill="#000" stroke="#000" textLength="41" lengthAdjust="spacingAndGlyphs">-0.001638</text>
<rect x="1651" y="577" width="2" height="1" fill="#000" shape-rendering="crispEdges"/>
<g clip-path="url(#c3)">
<path d="M0 784.5H1650" stroke="#c0c0c0" stroke-width="1" stroke-dasharray="3 3" shape-rendering="crispEdges"/>
<path d="M0 835.5H1650" stroke="#c0c0c0" stroke-width="1" stroke-dasharray="3 3" shape-rendering="crispEdges"/>
<path d="M0 896.5H1650" stroke="#c0c0c0" stroke-width="1" stroke-dasharray="3 3" shape-rendering="crispEdges"/>
<polyline points="0,841.7 0.5,840.7 8.5,828.5 16.5,833.4 24.5,846.7 32.5,853.3 40.5,848.3 48.5,850.6 56.5,833.4 64.5,833.1 72.5,812.3 80.5,820.6 88.5,817.6 96.5,814.6 104.5,813.3 112.5,813.3 120.5,833.1 128.5,839.7 136.5,838.4 144.5,833.4 152.5,831.1 160.5,841.0 168.5,845.3 176.5,836.4 184.5,832.5 192.5,832.5 200.5,833.4 208.5,839.4 216.5,825.5 224.5,818.3 232.5,820.2 240.5,822.2 248.5,831.5 256.5,841.4 264.5,828.5 272.5,823.9 280.5,822.6 288.5,822.6 296.5,821.2 304.5,825.9 312.5,835.8 320.5,837.4 328.5,836.7 336.5,841.4 344.5,842.7 352.5,827.5 360.5,803.1 368.5,801.4 376.5,806.1 384.5,811.0 392.5,814.3 400.5,808.4 408.5,828.2 416.5,824.5 424.5,824.5 432.5,826.5 440.5,825.2 448.5,804.4 456.5,801.4 464.5,811.0 472.5,813.0 480.5,818.3 488.5,817.3 496.5,817.3 504.5,826.2 512.5,795.5 520.5,792.2 528.5,793.5 536.5,787.9 544.5,783.9 552.5,780.0 560.5,780.0 568.5,788.2 576.5,787.2 584.5,785.3 592.5,789.2 600.5,777.3 608.5,785.3 616.5,782.3 624.5,779.7 632.5,782.0 640.5,805.4 648.5,822.2 656.5,826.5 664.5,823.5 672.5,822.6 680.5,819.6 688.5,819.6 696.5,826.8 704.5,845.3 712.5,845.3 720.5,840.7 728.5,848.0 736.5,854.2 744.5,850.0 752.5,841.4 760.5,843.3 768.5,842.4 776.5,846.7 784.5,845.3 792.5,829.5 800.5,835.1 808.5,835.1 816.5,839.1 824.5,843.3 832.5,840.7 840.5,846.3 848.5,839.7 856.5,846.3 864.5,838.4 872.5,844.0 880.5,828.2 888.5,831.5 896.5,824.5 904.5,828.5 912.5,824.5 920.5,821.6 928.5,811.3 936.5,815.0 944.5,811.0 952.5,809.4 960.5,810.3 968.5,809.4 976.5,818.3 984.5,810.7 992.5,815.3 1000.5,817.3 1008.5,816.3 1016.5,814.3 1024.5,827.2 1032.5,816.0 1040.5,805.4 1048.5,804.4 1056.5,810.3 1064.5,807.0 1072.5,821.9 1080.5,851.3 1088.5,858.2 1096.5,852.3 1104.5,846.3 1112.5,847.3 1120.5,842.7 1128.5,850.6 1136.5,849.3 1144.5,846.7 1152.5,851.3 1160.5,851.3 1168.5,834.1 1176.5,806.4 1184.5,806.7 1192.5,809.4 1200.5,808.4 1208.5,817.6 1216.5,822.2 1224.5,804.7 1232.5,813.3 1240.5,814.3 1248.5,806.1 1256.5,801.1 1264.5,798.1 1272.5,810.3 1280.5,810.3 1288.5,811.3 1296.5,808.0 1304.5,816.6 1312.5,826.8 1320.5,833.4 1328.5,840.4 1336.5,842.7 1344.5,834.1 1352.5,834.1 1360.5,823.5 1368.5,840.0 1376.5,840.7 1384.5,840.7 1392.5,842.7 1400.5,835.1 1408.5,831.5 1416.5,821.2 1424.5,819.3 1432.5,818.3 1440.5,826.2 1448.5,823.5 1456.5,836.1 1464.5,822.9 1472.5,829.5 1480.5,827.5" fill="none" stroke="#1e90ff" stroke-width="1" shape-rendering="crispEdges"/>
</g>
<path d="M1362.0 844.6L1479.6 824.0" stroke="#f00" stroke-width="3.2" stroke-linecap="butt" fill="none"/>
<path d="M1489.0 822.4L1478.4 828.8L1476.9 819.9Z" fill="#f00"/>
<text x="-3" y="761" font-family="Liberation Sans, sans-serif" font-size="10" fill="#000" stroke="#000" stroke-width="0.25" textLength="67.2" lengthAdjust="spacingAndGlyphs">RSI(14) 54.1000</text>
<text x="1654" y="759.1" font-family="Liberation Sans, sans-serif" font-size="10" stroke-width="0.25" fill="#000" stroke="#000" textLength="14.5" lengthAdjust="spacingAndGlyphs">100</text>
<rect x="1651" y="784" width="2" height="1" fill="#000" shape-rendering="crispEdges"/>
<rect x="1651" y="835" width="2" height="1" fill="#000" shape-rendering="crispEdges"/>
<rect x="1651" y="896" width="2" height="1" fill="#000" shape-rendering="crispEdges"/>
<text x="1654" y="788.1" font-family="Liberation Sans, sans-serif" font-size="10" stroke-width="0.25" fill="#000" stroke="#000" textLength="9.5" lengthAdjust="spacingAndGlyphs">80</text>
<text x="1654" y="838.6" font-family="Liberation Sans, sans-serif" font-size="10" stroke-width="0.25" fill="#000" stroke="#000" textLength="9.5" lengthAdjust="spacingAndGlyphs">50</text>
<text x="1654" y="900.1" font-family="Liberation Sans, sans-serif" font-size="10" stroke-width="0.25" fill="#000" stroke="#000" textLength="9.5" lengthAdjust="spacingAndGlyphs">15</text>
<text x="1654" y="919.1" font-family="Liberation Sans, sans-serif" font-size="10" stroke-width="0.25" fill="#000" stroke="#000" textLength="4.8" lengthAdjust="spacingAndGlyphs">0</text>
<text x="-8.6" y="935" font-family="Liberation Sans, sans-serif" font-size="10" fill="#000" stroke="#000" stroke-width="0.25" textLength="44.2" lengthAdjust="spacingAndGlyphs">1 Jun 2021</text>
<rect x="56" y="923" width="1" height="3" fill="#000" shape-rendering="crispEdges"/>
<text x="55.4" y="935" font-family="Liberation Sans, sans-serif" font-size="10" fill="#000" stroke="#000" stroke-width="0.25" textLength="46.7" lengthAdjust="spacingAndGlyphs">3 Jun 04:00</text>
<rect x="120" y="923" width="1" height="3" fill="#000" shape-rendering="crispEdges"/>
<text x="119.4" y="935" font-family="Liberation Sans, sans-serif" font-size="10" fill="#000" stroke="#000" stroke-width="0.25" textLength="46.7" lengthAdjust="spacingAndGlyphs">4 Jun 12:00</text>
<rect x="184" y="923" width="1" height="3" fill="#000" shape-rendering="crispEdges"/>
<text x="183.4" y="935" font-family="Liberation Sans, sans-serif" font-size="10" fill="#000" stroke="#000" stroke-width="0.25" textLength="46.7" lengthAdjust="spacingAndGlyphs">7 Jun 20:00</text>
<rect x="248" y="923" width="1" height="3" fill="#000" shape-rendering="crispEdges"/>
<text x="247.4" y="935" font-family="Liberation Sans, sans-serif" font-size="10" fill="#000" stroke="#000" stroke-width="0.25" textLength="46.7" lengthAdjust="spacingAndGlyphs">9 Jun 04:00</text>
<rect x="312" y="923" width="1" height="3" fill="#000" shape-rendering="crispEdges"/>
<text x="311.4" y="935" font-family="Liberation Sans, sans-serif" font-size="10" fill="#000" stroke="#000" stroke-width="0.25" textLength="51.6" lengthAdjust="spacingAndGlyphs">10 Jun 12:00</text>
<rect x="376" y="923" width="1" height="3" fill="#000" shape-rendering="crispEdges"/>
<text x="375.4" y="935" font-family="Liberation Sans, sans-serif" font-size="10" fill="#000" stroke="#000" stroke-width="0.25" textLength="51.6" lengthAdjust="spacingAndGlyphs">13 Jun 23:00</text>
<rect x="440" y="923" width="1" height="3" fill="#000" shape-rendering="crispEdges"/>
<text x="439.4" y="935" font-family="Liberation Sans, sans-serif" font-size="10" fill="#000" stroke="#000" stroke-width="0.25" textLength="51.6" lengthAdjust="spacingAndGlyphs">15 Jun 04:00</text>
<rect x="504" y="923" width="1" height="3" fill="#000" shape-rendering="crispEdges"/>
<text x="503.4" y="935" font-family="Liberation Sans, sans-serif" font-size="10" fill="#000" stroke="#000" stroke-width="0.25" textLength="51.6" lengthAdjust="spacingAndGlyphs">16 Jun 12:00</text>
<rect x="568" y="923" width="1" height="3" fill="#000" shape-rendering="crispEdges"/>
<text x="567.4" y="935" font-family="Liberation Sans, sans-serif" font-size="10" fill="#000" stroke="#000" stroke-width="0.25" textLength="51.6" lengthAdjust="spacingAndGlyphs">17 Jun 20:00</text>
<rect x="632" y="923" width="1" height="3" fill="#000" shape-rendering="crispEdges"/>
<text x="631.4" y="935" font-family="Liberation Sans, sans-serif" font-size="10" fill="#000" stroke="#000" stroke-width="0.25" textLength="51.6" lengthAdjust="spacingAndGlyphs">21 Jun 04:00</text>
<rect x="696" y="923" width="1" height="3" fill="#000" shape-rendering="crispEdges"/>
<text x="695.4" y="935" font-family="Liberation Sans, sans-serif" font-size="10" fill="#000" stroke="#000" stroke-width="0.25" textLength="51.6" lengthAdjust="spacingAndGlyphs">22 Jun 12:00</text>
<rect x="760" y="923" width="1" height="3" fill="#000" shape-rendering="crispEdges"/>
<text x="759.4" y="935" font-family="Liberation Sans, sans-serif" font-size="10" fill="#000" stroke="#000" stroke-width="0.25" textLength="51.6" lengthAdjust="spacingAndGlyphs">23 Jun 20:00</text>
<rect x="824" y="923" width="1" height="3" fill="#000" shape-rendering="crispEdges"/>
<text x="823.4" y="935" font-family="Liberation Sans, sans-serif" font-size="10" fill="#000" stroke="#000" stroke-width="0.25" textLength="51.6" lengthAdjust="spacingAndGlyphs">25 Jun 04:00</text>
<rect x="888" y="923" width="1" height="3" fill="#000" shape-rendering="crispEdges"/>
<text x="887.4" y="935" font-family="Liberation Sans, sans-serif" font-size="10" fill="#000" stroke="#000" stroke-width="0.25" textLength="51.6" lengthAdjust="spacingAndGlyphs">28 Jun 12:00</text>
<rect x="952" y="923" width="1" height="3" fill="#000" shape-rendering="crispEdges"/>
<text x="951.4" y="935" font-family="Liberation Sans, sans-serif" font-size="10" fill="#000" stroke="#000" stroke-width="0.25" textLength="51.6" lengthAdjust="spacingAndGlyphs">29 Jun 20:00</text>
<rect x="1016" y="923" width="1" height="3" fill="#000" shape-rendering="crispEdges"/>
<text x="1015.4" y="935" font-family="Liberation Sans, sans-serif" font-size="10" fill="#000" stroke="#000" stroke-width="0.25" textLength="43.7" lengthAdjust="spacingAndGlyphs">1 Jul 04:00</text>
<rect x="1080" y="923" width="1" height="3" fill="#000" shape-rendering="crispEdges"/>
<text x="1079.4" y="935" font-family="Liberation Sans, sans-serif" font-size="10" fill="#000" stroke="#000" stroke-width="0.25" textLength="43.7" lengthAdjust="spacingAndGlyphs">2 Jul 12:00</text>
<rect x="1144" y="923" width="1" height="3" fill="#000" shape-rendering="crispEdges"/>
<text x="1143.4" y="935" font-family="Liberation Sans, sans-serif" font-size="10" fill="#000" stroke="#000" stroke-width="0.25" textLength="43.7" lengthAdjust="spacingAndGlyphs">5 Jul 20:00</text>
<rect x="1208" y="923" width="1" height="3" fill="#000" shape-rendering="crispEdges"/>
<text x="1207.4" y="935" font-family="Liberation Sans, sans-serif" font-size="10" fill="#000" stroke="#000" stroke-width="0.25" textLength="43.7" lengthAdjust="spacingAndGlyphs">7 Jul 04:00</text>
<rect x="1272" y="923" width="1" height="3" fill="#000" shape-rendering="crispEdges"/>
<text x="1271.4" y="935" font-family="Liberation Sans, sans-serif" font-size="10" fill="#000" stroke="#000" stroke-width="0.25" textLength="43.7" lengthAdjust="spacingAndGlyphs">8 Jul 12:00</text>
<rect x="1336" y="923" width="1" height="3" fill="#000" shape-rendering="crispEdges"/>
<text x="1335.4" y="935" font-family="Liberation Sans, sans-serif" font-size="10" fill="#000" stroke="#000" stroke-width="0.25" textLength="48.0" lengthAdjust="spacingAndGlyphs">11 Jul 23:00</text>
<rect x="1400" y="923" width="1" height="3" fill="#000" shape-rendering="crispEdges"/>
<text x="1399.4" y="935" font-family="Liberation Sans, sans-serif" font-size="10" fill="#000" stroke="#000" stroke-width="0.25" textLength="48.7" lengthAdjust="spacingAndGlyphs">13 Jul 04:00</text>
<rect x="1464" y="923" width="1" height="3" fill="#000" shape-rendering="crispEdges"/>
<text x="1463.4" y="935" font-family="Liberation Sans, sans-serif" font-size="10" fill="#000" stroke="#000" stroke-width="0.25" textLength="48.7" lengthAdjust="spacingAndGlyphs">14 Jul 12:00</text><g id="toolbar"><defs><clipPath id="tb"><rect x="0" y="0" width="1697" height="17"/></clipPath><pattern id="hatch" width="2" height="2" patternUnits="userSpaceOnUse"><rect width="2" height="2" fill="#f6f6f6"/><rect width="1" height="1" fill="#fff"/><rect x="1" y="1" width="1" height="1" fill="#fff"/></pattern><linearGradient id="gold" x1="0" y1="0" x2="1" y2="1"><stop offset="0" stop-color="#f7d65a"/><stop offset="1" stop-color="#b8860b"/></linearGradient><linearGradient id="grn" x1="0" y1="0" x2="0" y2="1"><stop offset="0" stop-color="#5be05b"/><stop offset="1" stop-color="#0a8a0a"/></linearGradient></defs><g clip-path="url(#tb)">
<path d="M-1 8.6L3.2 13.4" stroke="#d8a820" stroke-width="2.6"/>
<rect x="10.8" y="0" width="1" height="14.5" fill="#a0a0a0"/>
<path d="M21 -2h9l2.5 2.5v10h-11.5z" fill="#fff" stroke="#8a8a8a" stroke-width="0.9"/><path d="M23 2.5h7M23 4.8h7M23 7h5" stroke="#9a9a9a" stroke-width="0.9"/>
<path d="M29.4 4.000000000000001h3.2v4.2h4.2v3.2h-4.2v4.2h-3.2v-4.2h-4.2v-3.2h4.2z" fill="url(#grn)" stroke="#0a8a0a" stroke-width="0.7"/>
<text x="39.8" y="7.4" font-family="Liberation Sans, Noto Sans CJK SC, sans-serif" font-size="12" fill="#000" textLength="36" lengthAdjust="spacingAndGlyphs">新订单</text>
<path d="M88 5.5L97 -1.5L104.3 4.5L95.5 12.8Z" fill="url(#gold)" stroke="#a8780a" stroke-width="0.7"/><path d="M88.3 6.5L95.5 13.5L104 5.5" fill="none" stroke="#c89820" stroke-width="1"/>
<rect x="118.4" y="-2" width="10.6" height="8.5" fill="#2e8ee8"/><path d="M123 -1V6" stroke="#e8f2ff" stroke-width="1.6"/><path d="M125 2.2h3" stroke="#cfe6ff" stroke-width="0.9"/>
<path d="M119.2 12.4c-3.6 0-3.9-4.3 -0.8-4.7c0.4-2.8 4.4-3.4 5.6-1.2c1.8-1.6 5-0.6 4.8 1.8c3 0.2 3 4.1 -0.2 4.1z" fill="#eef4fb" stroke="#6c86b4" stroke-width="1"/>
<g fill="none" stroke="#6a96d8" stroke-width="1"><circle cx="152" cy="4.9" r="2.8"/><circle cx="152" cy="4.9" r="5.3" stroke="#8ab0e0"/><circle cx="152" cy="4.9" r="7.8" stroke="#a8c4e6"/></g><path d="M152 4.9V12.7A7.8 7.8 0 0 0 159.8 4.9Z" fill="#7fc07f" opacity="0.75"/><path d="M152 5V12.5" stroke="#16a016" stroke-width="1.4"/><circle cx="152" cy="4.7" r="1.6" fill="#2a62d0"/>
<ellipse cx="178.5" cy="1" rx="7.8" ry="3.2" fill="#4aa0e0" stroke="#2f7fc4" stroke-width="0.6"/><path d="M171.5 3.5h14.5l-6 9h-2.5z" fill="#f3d34a" stroke="#d0a820" stroke-width="0.5"/><circle cx="183.4" cy="8.8" r="4.1" fill="#e02810"/><rect x="181.8" y="7.2" width="3.2" height="3.2" fill="#fff"/>
<text x="192.3" y="7.4" font-family="Liberation Sans, Noto Sans CJK SC, sans-serif" font-size="12" fill="#000" textLength="46.5" lengthAdjust="spacingAndGlyphs">自动交易</text>
<rect x="247.1" y="0" width="1" height="17" fill="#a0a0a0"/>
<rect x="248.1" y="0" width="1" height="17" fill="#fff"/>
<rect x="251" y="1" width="3" height="1" fill="#b4b4b4"/>
<rect x="251" y="3" width="3" height="1" fill="#b4b4b4"/>
<rect x="251" y="5" width="3" height="1" fill="#b4b4b4"/>
<rect x="251" y="7" width="3" height="1" fill="#b4b4b4"/>
<rect x="251" y="9" width="3" height="1" fill="#b4b4b4"/>
<rect x="251" y="11" width="3" height="1" fill="#b4b4b4"/>
<rect x="251" y="13" width="3" height="1" fill="#b4b4b4"/>
<path d="M265.4 0V12.8M262.9 10.4H275.4" stroke="#555" stroke-width="1.1" fill="none"/><path d="M274.4 8.8l2.6 1.6l-2.6 1.6z" fill="#555"/><circle cx="265.4" cy="0.3" r="1" fill="#555"/>
<path d="M271.5 0V8M271.5 7.5h-2.2M271.5 1.5h2.4" stroke="#119a11" stroke-width="1.2" fill="none"/>
<rect x="284.8" y="0" width="1" height="14.5" fill="#a0a0a0"/>
<rect x="286" y="0" width="24.5" height="14.5" fill="url(#hatch)"/>
<path d="M293.3 0V12.8M290.8 10.4H303.3" stroke="#555" stroke-width="1.1" fill="none"/><path d="M302.3 8.8l2.6 1.6l-2.6 1.6z" fill="#555"/><circle cx="293.3" cy="0.3" r="1" fill="#555"/>
<rect x="297.3" y="-1" width="4.6" height="7.5" fill="url(#grn)" stroke="#0c8a0c" stroke-width="0.5"/><path d="M299.6 6.5V8.6" stroke="#0c8a0c" stroke-width="1.1"/>
<path d="M321.3 0V12.8M318.8 10.4H331.3" stroke="#555" stroke-width="1.1" fill="none"/><path d="M330.3 8.8l2.6 1.6l-2.6 1.6z" fill="#555"/><circle cx="321.3" cy="0.3" r="1" fill="#555"/>
<path d="M320 7.8C322.5 5 324 2.2 326.2 2.3C328.2 2.4 329.5 5.2 331.8 6.2" fill="none" stroke="#1e9a1e" stroke-width="1.1"/>
<rect x="341.9" y="0" width="1" height="14.5" fill="#a0a0a0"/>
<path d="M360.8 6.8l5.6 5.4" stroke="#c8a018" stroke-width="2.6" stroke-linecap="round"/><path d="M361.2 6.4l5.2 5" stroke="#f0d860" stroke-width="1"/>
<circle cx="357" cy="2.9" r="5.6" fill="#d4ecfa" stroke="#2f7cc8" stroke-width="1.1"/>
<path d="M354 2.9h6" stroke="#2f7cc8" stroke-width="1.5"/>
<path d="M357 -0.1v6" stroke="#2f7cc8" stroke-width="1.5"/>
<path d="M389.0 6.8l5.6 5.4" stroke="#c8a018" stroke-width="2.6" stroke-linecap="round"/><path d="M389.4 6.4l5.2 5" stroke="#f0d860" stroke-width="1"/>
<circle cx="385.2" cy="2.9" r="5.6" fill="#d4ecfa" stroke="#2f7cc8" stroke-width="1.1"/>
<path d="M382.2 2.9h6" stroke="#2f7cc8" stroke-width="1.5"/>
<rect x="407" y="-3" width="7.2" height="7" fill="#3aa41c"/><rect x="415" y="-3" width="7.5" height="7" fill="#2a58d0"/><rect x="407" y="5.3" width="7.2" height="7.2" fill="#2a58d0"/><rect x="415" y="5.3" width="7.5" height="7.2" fill="#3aa41c"/><rect x="408.3" y="0" width="4.8" height="3" fill="#fff"/><rect x="416.2" y="0" width="5" height="3" fill="#fff"/><rect x="408.3" y="8.6" width="4.8" height="3" fill="#fff"/><rect x="416.2" y="8.6" width="5" height="3" fill="#fff"/>
<rect x="431.9" y="0" width="1" height="14.5" fill="#a0a0a0"/>
<rect x="436.9" y="0" width="1" height="14.5" fill="#a0a0a0"/>
<rect x="438" y="0" width="24" height="14.5" fill="url(#hatch)"/>
<path d="M445.5 0V12.8M443.0 10.4H455.5" stroke="#555" stroke-width="1.1" fill="none"/><path d="M454.5 8.8l2.6 1.6l-2.6 1.6z" fill="#555"/><circle cx="445.5" cy="0.3" r="1" fill="#555"/>
<path d="M450.3 1.2l3.6 3.4l-3.6 3.4z" fill="#d8f0d8" stroke="#129a12" stroke-width="1"/>
<rect x="464.9" y="0" width="1" height="14.5" fill="#a0a0a0"/>
<rect x="466" y="0" width="24" height="14.5" fill="url(#hatch)"/>
<path d="M473.3 0V12.8M470.8 10.4H483.3" stroke="#555" stroke-width="1.1" fill="none"/><path d="M482.3 8.8l2.6 1.6l-2.6 1.6z" fill="#555"/><circle cx="473.3" cy="0.3" r="1" fill="#555"/>
<path d="M479.4 0V8.6" stroke="#1a6eb0" stroke-width="1.2"/><path d="M480.2 4.5l3 -2.2v1.4h1.8v1.6h-1.8v1.4z" fill="#e05a10"/>
<rect x="493.9" y="0" width="1" height="14.5" fill="#a0a0a0"/>
<path d="M505 -2h9l2.5 2.5v10h-11.5z" fill="#fff" stroke="#8a8a8a" stroke-width="0.9"/><path d="M507 2.5h7M507 4.8h7M507 7h5" stroke="#9a9a9a" stroke-width="0.9"/>
<path d="M512.6 3.3999999999999995h3.2v4.2h4.2v3.2h-4.2v4.2h-3.2v-4.2h-4.2v-3.2h4.2z" fill="url(#grn)" stroke="#0a8a0a" stroke-width="0.7"/>
<path d="M525.6 4h6l-3 3.2z" fill="#000"/>
<circle cx="549.8" cy="4.5" r="7.3" fill="#fff" stroke="#1a66c8" stroke-width="2"/><path d="M549.8 0.5V4.8H552.6" stroke="#333" stroke-width="1.1" fill="none"/><circle cx="549.8" cy="4.5" r="5.6" fill="none" stroke="#b8c8d8" stroke-width="0.6" stroke-dasharray="0.6 2.3"/>
<path d="M564.5 4h6l-3 3.2z" fill="#000"/>
<rect x="581.7" y="-2" width="15" height="13.8" fill="#fff" stroke="#3a7ac8" stroke-width="1.2"/><path d="M581.7 6.2h15" stroke="#3a7ac8" stroke-width="1"/><rect x="581.7" y="-2" width="15" height="2.6" fill="#5a9ae0"/><path d="M583.5 4.5h1.8l1.6-1.6h1.6l1.4 1h1.6l1.4-1.4h1.6" fill="none" stroke="#a02010" stroke-width="1.1"/><path d="M584 9.6h1.6l1.4-1.2l1.6 1.2l2.4-2.4l2.2 2.6" fill="none" stroke="#159015" stroke-width="1.1"/>
<path d="M603.7 4h6l-3 3.2z" fill="#000"/>
<rect x="614.8" y="0" width="1" height="17" fill="#a0a0a0"/>
<rect x="615.8" y="0" width="1" height="17" fill="#fff"/>
<rect x="619" y="1" width="3" height="1" fill="#b4b4b4"/>
<rect x="619" y="3" width="3" height="1" fill="#b4b4b4"/>
<rect x="619" y="5" width="3" height="1" fill="#b4b4b4"/>
<rect x="619" y="7" width="3" height="1" fill="#b4b4b4"/>
<rect x="619" y="9" width="3" height="1" fill="#b4b4b4"/>
<rect x="619" y="11" width="3" height="1" fill="#b4b4b4"/>
<rect x="619" y="13" width="3" height="1" fill="#b4b4b4"/>
<rect x="625.1" y="0" width="1" height="14.5" fill="#a0a0a0"/>
<rect x="626.2" y="0" width="23.799999999999955" height="14.5" fill="url(#hatch)"/>
<path d="M633 -2L641.2 5.4L637.6 5.8L639.8 11.4L637.8 12.2L635.4 6.8L633 9.2Z" fill="#505050"/>
<path d="M658 5.5h6.4M666.4 5.5h6.6M665.4 0V4.5M665.4 6.5V12.8" stroke="#404040" stroke-width="1.1" fill="none"/>
<rect x="681.8" y="0" width="1" height="14.5" fill="#a0a0a0"/>
<path d="M699.4 0V12" stroke="#404040" stroke-width="1.1"/><path d="M722 5.5H734" stroke="#404040" stroke-width="1.1"/><path d="M750 12L762.5 -0.3" stroke="#404040" stroke-width="1.1"/>
<path d="M776 6.5L784 -1M779 11.5L790.5 0.5M781 11.8L789 4" stroke="#404040" stroke-width="1" fill="none"/><path d="M778 8.5l2.2 2.2M780 6.5l2.6 2.8M782 4.5l2.8 3M784 2.5l3 3M786 0.5l3 3" stroke="#404040" stroke-width="0.9"/>
<text x="786.8" y="13.6" font-family="Liberation Sans, sans-serif" font-size="6.8" font-weight="bold" fill="#333">E</text>
<path d="M805 1.5H818" stroke="#404040" stroke-width="1" stroke-dasharray="1 1"/>
<path d="M805 5.5H818" stroke="#404040" stroke-width="1" stroke-dasharray="1 1"/>
<path d="M805 9.5H814" stroke="#404040" stroke-width="1" stroke-dasharray="1 1"/>
<text x="814.8" y="13.6" font-family="Liberation Sans, sans-serif" font-size="6.8" font-weight="bold" fill="#333">F</text>
<text x="835.2" y="10" font-family="Liberation Sans, sans-serif" font-size="12.2" fill="#606060">A</text>
<rect x="862.5" y="1.3" width="11" height="10.4" fill="none" stroke="#404040" stroke-width="1" stroke-dasharray="1 1"/>
<text x="864.2" y="10" font-family="Liberation Sans, sans-serif" font-size="10.8" fill="#555" font-weight="bold">T</text>
<path d="M889.5 2.8l3-3.6l3 3.6z" fill="#505050"/><path d="M891.3 6.2l2.2 2.2l4.6-5.2" fill="none" stroke="#505050" stroke-width="1.2"/><path d="M896.5 8.3h6l-3 3.7z" fill="#505050"/>
<path d="M909.6 4h6l-3 3.2z" fill="#000"/>
<rect x="920.9" y="0" width="1" height="17" fill="#a0a0a0"/>
<rect x="921.9" y="0" width="1" height="17" fill="#fff"/>
<rect x="925" y="1" width="3" height="1" fill="#b4b4b4"/>
<rect x="925" y="3" width="3" height="1" fill="#b4b4b4"/>
<rect x="925" y="5" width="3" height="1" fill="#b4b4b4"/>
<rect x="925" y="7" width="3" height="1" fill="#b4b4b4"/>
<rect x="925" y="9" width="3" height="1" fill="#b4b4b4"/>
<rect x="925" y="11" width="3" height="1" fill="#b4b4b4"/>
<rect x="925" y="13" width="3" height="1" fill="#b4b4b4"/>
<rect x="1071.0" y="0" width="1" height="14.5" fill="#a0a0a0"/>
<rect x="1072.2" y="0" width="24.299999999999955" height="14.5" fill="url(#hatch)"/>
<text x="936.8" y="9.4" font-family="Liberation Sans, sans-serif" font-size="10.3" fill="#404040" textLength="13" lengthAdjust="spacingAndGlyphs">M1</text>
<text x="964.6" y="9.4" font-family="Liberation Sans, sans-serif" font-size="10.3" fill="#404040" textLength="13" lengthAdjust="spacingAndGlyphs">M5</text>
<text x="990.2" y="9.4" font-family="Liberation Sans, sans-serif" font-size="10.3" fill="#404040" textLength="19" lengthAdjust="spacingAndGlyphs">M15</text>
<text x="1018" y="9.4" font-family="Liberation Sans, sans-serif" font-size="10.3" fill="#404040" textLength="19" lengthAdjust="spacingAndGlyphs">M30</text>
<text x="1049.6" y="9.4" font-family="Liberation Sans, sans-serif" font-size="10.3" fill="#404040" textLength="12.2" lengthAdjust="spacingAndGlyphs">H1</text>
<text x="1076.8" y="9.4" font-family="Liberation Sans, sans-serif" font-size="10.3" fill="#404040" textLength="12.6" lengthAdjust="spacingAndGlyphs">H4</text>
<text x="1105.8" y="9.4" font-family="Liberation Sans, sans-serif" font-size="10.3" fill="#404040" textLength="11.8" lengthAdjust="spacingAndGlyphs">D1</text>
<text x="1132.4" y="9.4" font-family="Liberation Sans, sans-serif" font-size="10.3" fill="#404040" textLength="15.2" lengthAdjust="spacingAndGlyphs">W1</text>
<text x="1159.6" y="9.4" font-family="Liberation Sans, sans-serif" font-size="10.3" fill="#404040" textLength="14.8" lengthAdjust="spacingAndGlyphs">MN</text>
<rect x="1181.9" y="0" width="1" height="14.5" fill="#a0a0a0"/>
<circle cx="1652.3" cy="1.6" r="3.6" fill="none" stroke="#2a62d0" stroke-width="1.2"/><path d="M1649.8 4.4L1645 9.6" stroke="#2a52c0" stroke-width="2.2"/>
<path d="M1670 7.5c0-3.5 3-6 7-6s6 2.5 6 5.5s-3 5-6.5 5l-3.8 1.6l0.8-2.4c-2-0.6-3.5-2-3.5-3.7z" fill="#e4e6ee" stroke="#b4b4b4" stroke-width="0.8"/>
<circle cx="1683.4" cy="2.7" r="8" fill="#e03a1a"/>
<text x="1683.4" y="7.2" font-family="Liberation Serif, serif" font-size="13.5" fill="#fff" text-anchor="middle">1</text>
</g></g></svg>
</body></html>
